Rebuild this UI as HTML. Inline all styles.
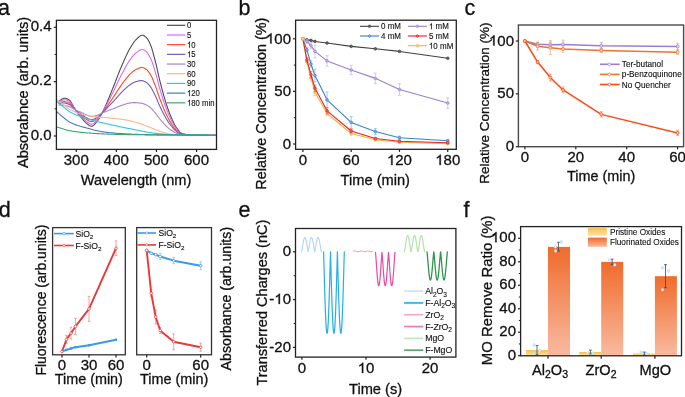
<!DOCTYPE html>
<html><head><meta charset="utf-8"><style>
html,body{margin:0;padding:0;background:#fff;overflow:hidden;}
svg{display:block;font-family:"Liberation Sans", sans-serif;will-change:transform;}
text{fill:#111;stroke:#111;stroke-width:0.3px;}
</style></head><body>
<svg width="685" height="397" viewBox="0 0 685 397">
<rect width="685" height="397" fill="#fff"/>
<clipPath id="ca"><rect x="56.4" y="20.3" width="160.1" height="129.1"/></clipPath>
<g clip-path="url(#ca)">
<polyline points="59.01,101.22 59.41,100.93 59.81,100.65 60.21,100.36 60.61,100.08 61.01,99.80 61.41,99.54 61.81,99.29 62.22,99.05 62.62,98.84 63.02,98.65 63.42,98.50 63.82,98.37 64.22,98.28 64.62,98.23 65.02,98.23 65.42,98.27 65.82,98.34 66.23,98.45 66.63,98.60 67.03,98.77 67.43,98.96 67.83,99.18 68.23,99.41 68.63,99.66 69.03,99.92 69.43,100.18 69.83,100.53 70.23,100.98 70.64,101.51 71.04,102.10 71.44,102.75 71.84,103.44 72.24,104.15 72.64,104.86 73.04,105.56 73.44,106.24 73.84,106.96 74.25,107.72 74.65,108.51 75.05,109.31 75.45,110.09 75.85,110.83 76.25,111.51 76.65,112.11 77.05,112.67 77.45,113.20 77.85,113.72 78.25,114.21 78.66,114.69 79.06,115.15 79.46,115.60 79.86,116.04 80.26,116.48 80.66,116.91 81.06,117.34 81.46,117.77 81.86,118.21 82.27,118.65 82.67,119.11 83.07,119.58 83.47,120.06 83.87,120.54 84.27,121.02 84.67,121.48 85.07,121.93 85.47,122.36 85.87,122.75 86.28,123.10 86.68,123.42 87.08,123.74 87.48,124.07 87.88,124.39 88.28,124.71 88.68,125.01 89.08,125.30 89.48,125.55 89.88,125.77 90.28,125.96 90.69,126.10 91.09,126.19 91.49,126.22 91.89,126.17 92.29,126.05 92.69,125.86 93.09,125.61 93.49,125.30 93.89,124.95 94.30,124.56 94.70,124.15 95.10,123.72 95.50,123.28 95.90,122.84 96.30,122.41 96.70,121.97 97.10,121.48 97.50,120.95 97.90,120.38 98.31,119.78 98.71,119.15 99.11,118.49 99.51,117.80 99.91,117.10 100.31,116.38 100.71,115.64 101.11,114.89 101.51,114.14 101.91,113.39 102.31,112.63 102.72,111.86 103.12,111.07 103.52,110.26 103.92,109.43 104.32,108.58 104.72,107.72 105.12,106.83 105.52,105.93 105.92,105.02 106.33,104.09 106.73,103.15 107.13,102.20 107.53,101.24 107.93,100.27 108.33,99.30 108.73,98.32 109.13,97.33 109.53,96.34 109.93,95.34 110.34,94.35 110.74,93.35 111.14,92.36 111.54,91.37 111.94,90.37 112.34,89.39 112.74,88.41 113.14,87.43 113.54,86.45 113.94,85.45 114.34,84.45 114.75,83.43 115.15,82.40 115.55,81.36 115.95,80.32 116.35,79.28 116.75,78.24 117.15,77.19 117.55,76.15 117.95,75.11 118.36,74.08 118.76,73.06 119.16,72.04 119.56,71.04 119.96,70.05 120.36,69.07 120.76,68.11 121.16,67.17 121.56,66.24 121.96,65.32 122.37,64.39 122.77,63.47 123.17,62.55 123.57,61.63 123.97,60.72 124.37,59.81 124.77,58.91 125.17,58.01 125.57,57.13 125.97,56.26 126.38,55.39 126.78,54.54 127.18,53.71 127.58,52.89 127.98,52.09 128.38,51.30 128.78,50.53 129.18,49.79 129.58,49.06 129.98,48.36 130.38,47.68 130.79,47.02 131.19,46.36 131.59,45.70 131.99,45.06 132.39,44.42 132.79,43.80 133.19,43.20 133.59,42.62 133.99,42.05 134.40,41.52 134.80,41.00 135.20,40.52 135.60,40.06 136.00,39.64 136.40,39.26 136.80,38.89 137.20,38.51 137.60,38.13 138.00,37.75 138.41,37.39 138.81,37.03 139.21,36.69 139.61,36.38 140.01,36.09 140.41,35.83 140.81,35.61 141.21,35.43 141.61,35.29 142.01,35.21 142.42,35.18 142.82,35.22 143.22,35.32 143.62,35.48 144.02,35.69 144.42,35.95 144.82,36.24 145.22,36.56 145.62,36.91 146.02,37.26 146.43,37.63 146.83,38.04 147.23,38.53 147.63,39.11 148.03,39.75 148.43,40.46 148.83,41.23 149.23,42.04 149.63,42.89 150.03,43.78 150.44,44.69 150.84,45.67 151.24,46.76 151.64,47.94 152.04,49.20 152.44,50.54 152.84,51.94 153.24,53.39 153.64,54.88 154.04,56.39 154.44,57.93 154.85,59.47 155.25,61.00 155.65,62.57 156.05,64.22 156.45,65.94 156.85,67.70 157.25,69.50 157.65,71.32 158.05,73.13 158.46,74.92 158.86,76.68 159.26,78.38 159.66,80.02 160.06,81.61 160.46,83.19 160.86,84.76 161.26,86.32 161.66,87.86 162.06,89.38 162.47,90.88 162.87,92.36 163.27,93.82 163.67,95.25 164.07,96.65 164.47,98.02 164.87,99.36 165.27,100.67 165.67,101.96 166.07,103.22 166.48,104.47 166.88,105.70 167.28,106.91 167.68,108.10 168.08,109.26 168.48,110.40 168.88,111.51 169.28,112.58 169.68,113.63 170.08,114.64 170.49,115.62 170.89,116.57 171.29,117.52 171.69,118.45 172.09,119.37 172.49,120.28 172.89,121.15 173.29,122.00 173.69,122.82 174.09,123.62 174.50,124.39 174.90,125.13 175.30,125.83 175.70,126.50 176.10,127.13 176.50,127.71 176.90,128.27 177.30,128.83 177.70,129.38 178.10,129.92 178.50,130.43 178.91,130.92 179.31,131.38 179.71,131.80 180.11,132.17 180.51,132.50 180.91,132.77 181.31,132.98 181.71,133.16 182.11,133.33 182.52,133.48 182.92,133.63 183.32,133.77 183.72,133.90 184.12,134.02 184.52,134.13 184.92,134.23 185.32,134.32 185.72,134.40 186.12,134.48 186.53,134.54 186.93,134.59 187.33,134.63 187.73,134.67 188.13,134.70 188.53,134.72 188.93,134.76 189.33,134.80 189.73,134.83 190.13,134.86 190.54,134.89 190.94,134.92 191.34,134.95 191.74,134.98 192.14,135.00 192.54,135.03 192.94,135.05 193.34,135.07 193.74,135.09 194.14,135.11 194.55,135.12 194.95,135.14 195.35,135.15 195.75,135.16 196.15,135.17 196.55,135.18 196.95,135.19 197.35,135.20 197.75,135.21 198.15,135.22 198.56,135.23 198.96,135.24 199.36,135.25 199.76,135.26 200.16,135.27 200.56,135.28 200.96,135.28 201.36,135.29 201.76,135.30 202.16,135.31 202.56,135.31 202.97,135.32 203.37,135.33 203.77,135.34 204.17,135.34 204.57,135.35 204.97,135.36 205.37,135.36 205.77,135.37 206.17,135.38 206.57,135.38 206.98,135.39 207.38,135.39 207.78,135.40 208.18,135.40 208.58,135.41 208.98,135.41 209.38,135.42 209.78,135.42 210.18,135.42 210.59,135.43 210.99,135.43 211.39,135.44 211.79,135.44 212.19,135.44 212.59,135.44 212.99,135.45 213.39,135.45 213.79,135.45 214.19,135.45 214.60,135.45 215.00,135.45 215.40,135.46 215.80,135.46 216.20,135.46 216.60,135.46" fill="none" stroke="#4d4d4d" stroke-width="1.1" stroke-linejoin="round" stroke-linecap="round" />
<polyline points="59.01,101.99 59.41,101.77 59.81,101.55 60.21,101.33 60.61,101.12 61.01,100.91 61.41,100.70 61.81,100.51 62.22,100.33 62.62,100.17 63.02,100.04 63.42,99.92 63.82,99.83 64.22,99.78 64.62,99.75 65.02,99.77 65.42,99.81 65.82,99.89 66.23,100.00 66.63,100.14 67.03,100.30 67.43,100.47 67.83,100.67 68.23,100.88 68.63,101.10 69.03,101.33 69.43,101.57 69.83,101.87 70.23,102.26 70.64,102.72 71.04,103.23 71.44,103.79 71.84,104.38 72.24,104.98 72.64,105.59 73.04,106.19 73.44,106.77 73.84,107.38 74.25,108.03 74.65,108.70 75.05,109.38 75.45,110.05 75.85,110.68 76.25,111.25 76.65,111.76 77.05,112.25 77.45,112.71 77.85,113.15 78.25,113.57 78.66,113.98 79.06,114.38 79.46,114.77 79.86,115.15 80.26,115.53 80.66,115.90 81.06,116.28 81.46,116.66 81.86,117.04 82.27,117.43 82.67,117.83 83.07,118.24 83.47,118.67 83.87,119.09 84.27,119.51 84.67,119.93 85.07,120.32 85.47,120.70 85.87,121.05 86.28,121.37 86.68,121.65 87.08,121.94 87.48,122.24 87.88,122.53 88.28,122.81 88.68,123.08 89.08,123.33 89.48,123.56 89.88,123.76 90.28,123.92 90.69,124.05 91.09,124.13 91.49,124.15 91.89,124.12 92.29,124.02 92.69,123.86 93.09,123.64 93.49,123.38 93.89,123.09 94.30,122.76 94.70,122.41 95.10,122.05 95.50,121.68 95.90,121.31 96.30,120.95 96.70,120.58 97.10,120.17 97.50,119.72 97.90,119.24 98.31,118.74 98.71,118.20 99.11,117.65 99.51,117.07 99.91,116.48 100.31,115.87 100.71,115.25 101.11,114.62 101.51,113.99 101.91,113.35 102.31,112.72 102.72,112.07 103.12,111.41 103.52,110.73 103.92,110.04 104.32,109.33 104.72,108.61 105.12,107.88 105.52,107.13 105.92,106.37 106.33,105.61 106.73,104.83 107.13,104.05 107.53,103.26 107.93,102.46 108.33,101.66 108.73,100.85 109.13,100.04 109.53,99.23 109.93,98.41 110.34,97.60 110.74,96.78 111.14,95.97 111.54,95.15 111.94,94.34 112.34,93.54 112.74,92.73 113.14,91.93 113.54,91.13 113.94,90.31 114.34,89.48 114.75,88.65 115.15,87.80 115.55,86.95 115.95,86.10 116.35,85.24 116.75,84.38 117.15,83.52 117.55,82.66 117.95,81.80 118.36,80.95 118.76,80.11 119.16,79.27 119.56,78.44 119.96,77.63 120.36,76.82 120.76,76.03 121.16,75.26 121.56,74.50 121.96,73.74 122.37,72.98 122.77,72.22 123.17,71.46 123.57,70.71 123.97,69.96 124.37,69.22 124.77,68.48 125.17,67.74 125.57,67.02 125.97,66.30 126.38,65.60 126.78,64.90 127.18,64.22 127.58,63.55 127.98,62.89 128.38,62.25 128.78,61.63 129.18,61.02 129.58,60.43 129.98,59.87 130.38,59.32 130.79,58.78 131.19,58.25 131.59,57.72 131.99,57.20 132.39,56.70 132.79,56.20 133.19,55.72 133.59,55.25 133.99,54.81 134.40,54.38 134.80,53.98 135.20,53.59 135.60,53.24 136.00,52.91 136.40,52.62 136.80,52.33 137.20,52.04 137.60,51.75 138.00,51.46 138.41,51.18 138.81,50.91 139.21,50.65 139.61,50.41 140.01,50.19 140.41,50.00 140.81,49.84 141.21,49.71 141.61,49.62 142.01,49.57 142.42,49.56 142.82,49.62 143.22,49.72 143.62,49.88 144.02,50.08 144.42,50.31 144.82,50.58 145.22,50.87 145.62,51.18 146.02,51.50 146.43,51.82 146.83,52.18 147.23,52.62 147.63,53.12 148.03,53.68 148.43,54.30 148.83,54.96 149.23,55.67 149.63,56.41 150.03,57.17 150.44,57.96 150.84,58.80 151.24,59.74 151.64,60.75 152.04,61.84 152.44,62.99 152.84,64.19 153.24,65.43 153.64,66.70 154.04,68.00 154.44,69.31 154.85,70.63 155.25,71.94 155.65,73.29 156.05,74.70 156.45,76.17 156.85,77.68 157.25,79.21 157.65,80.76 158.05,82.30 158.46,83.83 158.86,85.33 159.26,86.79 159.66,88.18 160.06,89.54 160.46,90.89 160.86,92.23 161.26,93.56 161.66,94.88 162.06,96.17 162.47,97.46 162.87,98.72 163.27,99.96 163.67,101.19 164.07,102.38 164.47,103.56 164.87,104.70 165.27,105.82 165.67,106.92 166.07,108.00 166.48,109.07 166.88,110.12 167.28,111.15 167.68,112.17 168.08,113.16 168.48,114.13 168.88,115.08 169.28,116.00 169.68,116.89 170.08,117.75 170.49,118.58 170.89,119.39 171.29,120.20 171.69,121.00 172.09,121.78 172.49,122.55 172.89,123.29 173.29,124.01 173.69,124.72 174.09,125.40 174.50,126.05 174.90,126.68 175.30,127.28 175.70,127.84 176.10,128.38 176.50,128.87 176.90,129.35 177.30,129.83 177.70,130.29 178.10,130.75 178.50,131.18 178.91,131.59 179.31,131.98 179.71,132.33 180.11,132.65 180.51,132.92 180.91,133.15 181.31,133.33 181.71,133.48 182.11,133.61 182.52,133.75 182.92,133.87 183.32,133.98 183.72,134.09 184.12,134.19 184.52,134.28 184.92,134.37 185.32,134.44 185.72,134.51 186.12,134.57 186.53,134.62 186.93,134.67 187.33,134.70 187.73,134.73 188.13,134.75 188.53,134.77 188.93,134.80 189.33,134.83 189.73,134.86 190.13,134.89 190.54,134.92 190.94,134.94 191.34,134.97 191.74,134.99 192.14,135.01 192.54,135.03 192.94,135.05 193.34,135.07 193.74,135.09 194.14,135.10 194.55,135.12 194.95,135.13 195.35,135.14 195.75,135.15 196.15,135.16 196.55,135.17 196.95,135.18 197.35,135.19 197.75,135.20 198.15,135.21 198.56,135.21 198.96,135.22 199.36,135.23 199.76,135.24 200.16,135.25 200.56,135.25 200.96,135.26 201.36,135.27 201.76,135.28 202.16,135.28 202.56,135.29 202.97,135.30 203.37,135.30 203.77,135.31 204.17,135.31 204.57,135.32 204.97,135.33 205.37,135.33 205.77,135.34 206.17,135.34 206.57,135.35 206.98,135.35 207.38,135.36 207.78,135.36 208.18,135.37 208.58,135.37 208.98,135.37 209.38,135.38 209.78,135.38 210.18,135.39 210.59,135.39 210.99,135.39 211.39,135.39 211.79,135.40 212.19,135.40 212.59,135.40 212.99,135.40 213.39,135.41 213.79,135.41 214.19,135.41 214.60,135.41 215.00,135.41 215.40,135.41 215.80,135.41 216.20,135.41 216.60,135.41" fill="none" stroke="#e066ff" stroke-width="1.1" stroke-linejoin="round" stroke-linecap="round" />
<polyline points="59.01,102.95 59.41,102.82 59.81,102.68 60.21,102.55 60.61,102.41 61.01,102.28 61.41,102.16 61.81,102.04 62.22,101.93 62.62,101.84 63.02,101.76 63.42,101.70 63.82,101.66 64.22,101.64 64.62,101.65 65.02,101.68 65.42,101.74 65.82,101.83 66.23,101.93 66.63,102.06 67.03,102.20 67.43,102.36 67.83,102.53 68.23,102.71 68.63,102.90 69.03,103.10 69.43,103.30 69.83,103.55 70.23,103.86 70.64,104.22 71.04,104.63 71.44,105.07 71.84,105.54 72.24,106.02 72.64,106.49 73.04,106.97 73.44,107.42 73.84,107.90 74.25,108.41 74.65,108.94 75.05,109.47 75.45,109.99 75.85,110.48 76.25,110.94 76.65,111.34 77.05,111.72 77.45,112.08 77.85,112.43 78.25,112.77 78.66,113.10 79.06,113.42 79.46,113.73 79.86,114.04 80.26,114.34 80.66,114.65 81.06,114.95 81.46,115.26 81.86,115.58 82.27,115.90 82.67,116.24 83.07,116.58 83.47,116.93 83.87,117.28 84.27,117.64 84.67,117.98 85.07,118.32 85.47,118.63 85.87,118.93 86.28,119.20 86.68,119.45 87.08,119.70 87.48,119.95 87.88,120.20 88.28,120.44 88.68,120.67 89.08,120.88 89.48,121.07 89.88,121.24 90.28,121.38 90.69,121.49 91.09,121.56 91.49,121.58 91.89,121.56 92.29,121.48 92.69,121.36 93.09,121.19 93.49,120.99 93.89,120.77 94.30,120.52 94.70,120.25 95.10,119.97 95.50,119.69 95.90,119.41 96.30,119.13 96.70,118.85 97.10,118.53 97.50,118.19 97.90,117.82 98.31,117.43 98.71,117.03 99.11,116.60 99.51,116.16 99.91,115.70 100.31,115.24 100.71,114.76 101.11,114.28 101.51,113.80 101.91,113.31 102.31,112.82 102.72,112.33 103.12,111.83 103.52,111.31 103.92,110.79 104.32,110.26 104.72,109.72 105.12,109.18 105.52,108.62 105.92,108.06 106.33,107.50 106.73,106.93 107.13,106.35 107.53,105.77 107.93,105.19 108.33,104.60 108.73,104.02 109.13,103.43 109.53,102.83 109.93,102.24 110.34,101.65 110.74,101.06 111.14,100.47 111.54,99.88 111.94,99.29 112.34,98.71 112.74,98.12 113.14,97.55 113.54,96.96 113.94,96.37 114.34,95.77 114.75,95.16 115.15,94.54 115.55,93.92 115.95,93.29 116.35,92.66 116.75,92.03 117.15,91.40 117.55,90.77 117.95,90.14 118.36,89.52 118.76,88.90 119.16,88.28 119.56,87.68 119.96,87.08 120.36,86.49 120.76,85.91 121.16,85.35 121.56,84.79 121.96,84.24 122.37,83.68 122.77,83.13 123.17,82.58 123.57,82.03 123.97,81.49 124.37,80.94 124.77,80.41 125.17,79.87 125.57,79.35 125.97,78.83 126.38,78.32 126.78,77.82 127.18,77.32 127.58,76.84 127.98,76.37 128.38,75.91 128.78,75.47 129.18,75.03 129.58,74.62 129.98,74.21 130.38,73.82 130.79,73.45 131.19,73.07 131.59,72.71 131.99,72.35 132.39,72.00 132.79,71.66 133.19,71.33 133.59,71.01 133.99,70.71 134.40,70.42 134.80,70.15 135.20,69.90 135.60,69.67 136.00,69.46 136.40,69.28 136.80,69.10 137.20,68.92 137.60,68.74 138.00,68.56 138.41,68.38 138.81,68.21 139.21,68.05 139.61,67.90 140.01,67.77 140.41,67.66 140.81,67.58 141.21,67.51 141.61,67.48 142.01,67.47 142.42,67.50 142.82,67.57 143.22,67.68 143.62,67.83 144.02,68.01 144.42,68.22 144.82,68.46 145.22,68.71 145.62,68.97 146.02,69.24 146.43,69.52 146.83,69.82 147.23,70.18 147.63,70.60 148.03,71.06 148.43,71.56 148.83,72.09 149.23,72.66 149.63,73.25 150.03,73.87 150.44,74.50 150.84,75.18 151.24,75.92 151.64,76.73 152.04,77.60 152.44,78.51 152.84,79.46 153.24,80.44 153.64,81.45 154.04,82.48 154.44,83.51 154.85,84.55 155.25,85.59 155.65,86.65 156.05,87.77 156.45,88.92 156.85,90.11 157.25,91.31 157.65,92.53 158.05,93.74 158.46,94.94 158.86,96.12 159.26,97.27 159.66,98.36 160.06,99.43 160.46,100.49 160.86,101.55 161.26,102.59 161.66,103.62 162.06,104.64 162.47,105.65 162.87,106.65 163.27,107.63 163.67,108.59 164.07,109.53 164.47,110.46 164.87,111.36 165.27,112.24 165.67,113.10 166.07,113.96 166.48,114.80 166.88,115.63 167.28,116.44 167.68,117.24 168.08,118.02 168.48,118.78 168.88,119.52 169.28,120.25 169.68,120.95 170.08,121.62 170.49,122.28 170.89,122.91 171.29,123.54 171.69,124.17 172.09,124.78 172.49,125.39 172.89,125.96 173.29,126.53 173.69,127.08 174.09,127.61 174.50,128.12 174.90,128.61 175.30,129.07 175.70,129.52 176.10,129.93 176.50,130.32 176.90,130.69 177.30,131.06 177.70,131.42 178.10,131.78 178.50,132.11 178.91,132.43 179.31,132.73 179.71,133.00 180.11,133.24 180.51,133.45 180.91,133.63 181.31,133.76 181.71,133.87 182.11,133.98 182.52,134.07 182.92,134.17 183.32,134.25 183.72,134.33 184.12,134.41 184.52,134.48 184.92,134.54 185.32,134.60 185.72,134.65 186.12,134.69 186.53,134.73 186.93,134.76 187.33,134.78 187.73,134.80 188.13,134.82 188.53,134.83 188.93,134.86 189.33,134.88 189.73,134.91 190.13,134.93 190.54,134.95 190.94,134.97 191.34,134.99 191.74,135.01 192.14,135.03 192.54,135.04 192.94,135.06 193.34,135.07 193.74,135.09 194.14,135.10 194.55,135.11 194.95,135.12 195.35,135.13 195.75,135.14 196.15,135.15 196.55,135.16 196.95,135.17 197.35,135.17 197.75,135.18 198.15,135.19 198.56,135.19 198.96,135.20 199.36,135.21 199.76,135.21 200.16,135.22 200.56,135.23 200.96,135.23 201.36,135.24 201.76,135.24 202.16,135.25 202.56,135.26 202.97,135.26 203.37,135.27 203.77,135.27 204.17,135.28 204.57,135.28 204.97,135.29 205.37,135.29 205.77,135.30 206.17,135.30 206.57,135.31 206.98,135.31 207.38,135.31 207.78,135.32 208.18,135.32 208.58,135.32 208.98,135.33 209.38,135.33 209.78,135.33 210.18,135.34 210.59,135.34 210.99,135.34 211.39,135.34 211.79,135.35 212.19,135.35 212.59,135.35 212.99,135.35 213.39,135.35 213.79,135.36 214.19,135.36 214.60,135.36 215.00,135.36 215.40,135.36 215.80,135.36 216.20,135.36 216.60,135.36" fill="none" stroke="#ff4a1c" stroke-width="1.1" stroke-linejoin="round" stroke-linecap="round" />
<polyline points="59.01,103.65 59.41,103.59 59.81,103.51 60.21,103.44 60.61,103.36 61.01,103.29 61.41,103.22 61.81,103.16 62.22,103.11 62.62,103.06 63.02,103.03 63.42,103.01 63.82,103.00 64.22,103.01 64.62,103.04 65.02,103.09 65.42,103.16 65.82,103.25 66.23,103.35 66.63,103.47 67.03,103.60 67.43,103.75 67.83,103.90 68.23,104.06 68.63,104.23 69.03,104.40 69.43,104.57 69.83,104.78 70.23,105.04 70.64,105.34 71.04,105.67 71.44,106.02 71.84,106.40 72.24,106.78 72.64,107.16 73.04,107.54 73.44,107.90 73.84,108.28 74.25,108.69 74.65,109.11 75.05,109.53 75.45,109.95 75.85,110.34 76.25,110.70 76.65,111.03 77.05,111.33 77.45,111.63 77.85,111.91 78.25,112.18 78.66,112.45 79.06,112.71 79.46,112.96 79.86,113.22 80.26,113.47 80.66,113.72 81.06,113.98 81.46,114.24 81.86,114.51 82.27,114.78 82.67,115.06 83.07,115.35 83.47,115.65 83.87,115.96 84.27,116.26 84.67,116.55 85.07,116.84 85.47,117.12 85.87,117.37 86.28,117.61 86.68,117.83 87.08,118.05 87.48,118.27 87.88,118.49 88.28,118.70 88.68,118.89 89.08,119.08 89.48,119.25 89.88,119.39 90.28,119.51 90.69,119.60 91.09,119.67 91.49,119.69 91.89,119.67 92.29,119.61 92.69,119.52 93.09,119.39 93.49,119.24 93.89,119.06 94.30,118.87 94.70,118.66 95.10,118.45 95.50,118.23 95.90,118.01 96.30,117.79 96.70,117.57 97.10,117.33 97.50,117.06 97.90,116.78 98.31,116.48 98.71,116.16 99.11,115.83 99.51,115.49 99.91,115.14 100.31,114.77 100.71,114.41 101.11,114.03 101.51,113.66 101.91,113.28 102.31,112.90 102.72,112.52 103.12,112.13 103.52,111.74 103.92,111.35 104.32,110.95 104.72,110.54 105.12,110.14 105.52,109.72 105.92,109.31 106.33,108.89 106.73,108.47 107.13,108.05 107.53,107.62 107.93,107.20 108.33,106.77 108.73,106.34 109.13,105.92 109.53,105.49 109.93,105.06 110.34,104.63 110.74,104.20 111.14,103.78 111.54,103.35 111.94,102.93 112.34,102.51 112.74,102.09 113.14,101.68 113.54,101.26 113.94,100.83 114.34,100.39 114.75,99.95 115.15,99.50 115.55,99.05 115.95,98.59 116.35,98.13 116.75,97.67 117.15,97.20 117.55,96.74 117.95,96.28 118.36,95.82 118.76,95.36 119.16,94.92 119.56,94.47 119.96,94.03 120.36,93.60 120.76,93.18 121.16,92.77 121.56,92.37 121.96,91.97 122.37,91.56 122.77,91.16 123.17,90.76 123.57,90.36 123.97,89.97 124.37,89.58 124.77,89.19 125.17,88.80 125.57,88.42 125.97,88.05 126.38,87.68 126.78,87.32 127.18,86.97 127.58,86.63 127.98,86.29 128.38,85.97 128.78,85.65 129.18,85.35 129.58,85.05 129.98,84.77 130.38,84.50 130.79,84.24 131.19,83.99 131.59,83.74 131.99,83.49 132.39,83.26 132.79,83.03 133.19,82.81 133.59,82.61 133.99,82.41 134.40,82.23 134.80,82.06 135.20,81.90 135.60,81.76 136.00,81.64 136.40,81.54 136.80,81.44 137.20,81.34 137.60,81.24 138.00,81.14 138.41,81.04 138.81,80.94 139.21,80.86 139.61,80.78 140.01,80.72 140.41,80.67 140.81,80.63 141.21,80.62 141.61,80.62 142.01,80.65 142.42,80.70 142.82,80.78 143.22,80.90 143.62,81.05 144.02,81.21 144.42,81.40 144.82,81.61 145.22,81.83 145.62,82.06 146.02,82.30 146.43,82.54 146.83,82.81 147.23,83.11 147.63,83.46 148.03,83.84 148.43,84.26 148.83,84.70 149.23,85.17 149.63,85.65 150.03,86.16 150.44,86.68 150.84,87.23 151.24,87.84 151.64,88.49 152.04,89.19 152.44,89.93 152.84,90.70 153.24,91.49 153.64,92.30 154.04,93.13 154.44,93.96 154.85,94.80 155.25,95.63 155.65,96.49 156.05,97.38 156.45,98.31 156.85,99.26 157.25,100.22 157.65,101.19 158.05,102.16 158.46,103.12 158.86,104.06 159.26,104.98 159.66,105.86 160.06,106.71 160.46,107.56 160.86,108.40 161.26,109.23 161.66,110.06 162.06,110.88 162.47,111.69 162.87,112.48 163.27,113.27 163.67,114.04 164.07,114.79 164.47,115.53 164.87,116.26 165.27,116.96 165.67,117.66 166.07,118.34 166.48,119.02 166.88,119.68 167.28,120.33 167.68,120.97 168.08,121.60 168.48,122.21 168.88,122.80 169.28,123.38 169.68,123.94 170.08,124.47 170.49,124.99 170.89,125.50 171.29,126.00 171.69,126.50 172.09,126.99 172.49,127.47 172.89,127.93 173.29,128.38 173.69,128.81 174.09,129.23 174.50,129.64 174.90,130.03 175.30,130.40 175.70,130.75 176.10,131.08 176.50,131.38 176.90,131.68 177.30,131.97 177.70,132.26 178.10,132.53 178.50,132.80 178.91,133.05 179.31,133.28 179.71,133.49 180.11,133.68 180.51,133.84 180.91,133.97 181.31,134.08 181.71,134.16 182.11,134.24 182.52,134.32 182.92,134.39 183.32,134.45 183.72,134.51 184.12,134.57 184.52,134.62 184.92,134.67 185.32,134.71 185.72,134.75 186.12,134.78 186.53,134.80 186.93,134.83 187.33,134.84 187.73,134.86 188.13,134.87 188.53,134.88 188.93,134.90 189.33,134.92 189.73,134.94 190.13,134.96 190.54,134.97 190.94,134.99 191.34,135.01 191.74,135.02 192.14,135.04 192.54,135.05 192.94,135.06 193.34,135.07 193.74,135.09 194.14,135.10 194.55,135.11 194.95,135.12 195.35,135.13 195.75,135.13 196.15,135.14 196.55,135.15 196.95,135.15 197.35,135.16 197.75,135.17 198.15,135.17 198.56,135.18 198.96,135.18 199.36,135.19 199.76,135.20 200.16,135.20 200.56,135.21 200.96,135.21 201.36,135.22 201.76,135.22 202.16,135.23 202.56,135.23 202.97,135.24 203.37,135.24 203.77,135.25 204.17,135.25 204.57,135.25 204.97,135.26 205.37,135.26 205.77,135.27 206.17,135.27 206.57,135.27 206.98,135.28 207.38,135.28 207.78,135.28 208.18,135.29 208.58,135.29 208.98,135.29 209.38,135.30 209.78,135.30 210.18,135.30 210.59,135.30 210.99,135.31 211.39,135.31 211.79,135.31 212.19,135.31 212.59,135.31 212.99,135.31 213.39,135.32 213.79,135.32 214.19,135.32 214.60,135.32 215.00,135.32 215.40,135.32 215.80,135.32 216.20,135.32 216.60,135.32" fill="none" stroke="#6d5fb8" stroke-width="1.1" stroke-linejoin="round" stroke-linecap="round" />
<polyline points="59.01,104.87 59.41,104.91 59.81,104.94 60.21,104.98 60.61,105.01 61.01,105.04 61.41,105.07 61.81,105.10 62.22,105.13 62.62,105.17 63.02,105.21 63.42,105.26 63.82,105.31 64.22,105.37 64.62,105.44 65.02,105.52 65.42,105.61 65.82,105.70 66.23,105.80 66.63,105.91 67.03,106.02 67.43,106.14 67.83,106.26 68.23,106.39 68.63,106.51 69.03,106.63 69.43,106.76 69.83,106.90 70.23,107.07 70.64,107.25 71.04,107.45 71.44,107.66 71.84,107.87 72.24,108.09 72.64,108.31 73.04,108.53 73.44,108.73 73.84,108.95 74.25,109.18 74.65,109.41 75.05,109.64 75.45,109.88 75.85,110.10 76.25,110.30 76.65,110.49 77.05,110.66 77.45,110.84 77.85,111.00 78.25,111.17 78.66,111.33 79.06,111.49 79.46,111.64 79.86,111.80 80.26,111.96 80.66,112.12 81.06,112.29 81.46,112.47 81.86,112.65 82.27,112.84 82.67,113.04 83.07,113.24 83.47,113.45 83.87,113.66 84.27,113.88 84.67,114.09 85.07,114.29 85.47,114.49 85.87,114.69 86.28,114.87 86.68,115.04 87.08,115.21 87.48,115.37 87.88,115.53 88.28,115.69 88.68,115.84 89.08,115.97 89.48,116.09 89.88,116.20 90.28,116.29 90.69,116.36 91.09,116.41 91.49,116.43 91.89,116.42 92.29,116.39 92.69,116.34 93.09,116.28 93.49,116.20 93.89,116.12 94.30,116.02 94.70,115.92 95.10,115.81 95.50,115.70 95.90,115.59 96.30,115.48 96.70,115.37 97.10,115.25 97.50,115.12 97.90,114.97 98.31,114.82 98.71,114.67 99.11,114.50 99.51,114.33 99.91,114.15 100.31,113.97 100.71,113.79 101.11,113.60 101.51,113.42 101.91,113.23 102.31,113.04 102.72,112.85 103.12,112.67 103.52,112.48 103.92,112.31 104.32,112.13 104.72,111.96 105.12,111.79 105.52,111.62 105.92,111.45 106.33,111.29 106.73,111.13 107.13,110.97 107.53,110.81 107.93,110.66 108.33,110.51 108.73,110.36 109.13,110.21 109.53,110.06 109.93,109.92 110.34,109.77 110.74,109.63 111.14,109.49 111.54,109.35 111.94,109.21 112.34,109.07 112.74,108.93 113.14,108.80 113.54,108.66 113.94,108.52 114.34,108.37 114.75,108.21 115.15,108.06 115.55,107.89 115.95,107.73 116.35,107.55 116.75,107.38 117.15,107.21 117.55,107.03 117.95,106.86 118.36,106.69 118.76,106.52 119.16,106.35 119.56,106.19 119.96,106.03 120.36,105.87 120.76,105.72 121.16,105.57 121.56,105.43 121.96,105.29 122.37,105.15 122.77,105.01 123.17,104.87 123.57,104.73 123.97,104.59 124.37,104.46 124.77,104.33 125.17,104.20 125.57,104.07 125.97,103.95 126.38,103.83 126.78,103.71 127.18,103.60 127.58,103.50 127.98,103.39 128.38,103.30 128.78,103.21 129.18,103.13 129.58,103.05 129.98,102.98 130.38,102.91 130.79,102.86 131.19,102.80 131.59,102.76 131.99,102.71 132.39,102.68 132.79,102.64 133.19,102.62 133.59,102.60 133.99,102.59 134.40,102.58 134.80,102.59 135.20,102.60 135.60,102.61 136.00,102.64 136.40,102.68 136.80,102.72 137.20,102.76 137.60,102.79 138.00,102.83 138.41,102.86 138.81,102.90 139.21,102.94 139.61,102.98 140.01,103.03 140.41,103.08 140.81,103.14 141.21,103.21 141.61,103.28 142.01,103.37 142.42,103.46 142.82,103.57 143.22,103.69 143.62,103.83 144.02,103.98 144.42,104.13 144.82,104.30 145.22,104.47 145.62,104.64 146.02,104.82 146.43,105.00 146.83,105.19 147.23,105.40 147.63,105.64 148.03,105.89 148.43,106.15 148.83,106.43 149.23,106.73 149.63,107.03 150.03,107.35 150.44,107.67 150.84,108.01 151.24,108.38 151.64,108.77 152.04,109.19 152.44,109.62 152.84,110.07 153.24,110.54 153.64,111.01 154.04,111.50 154.44,111.98 154.85,112.47 155.25,112.95 155.65,113.45 156.05,113.96 156.45,114.49 156.85,115.03 157.25,115.58 157.65,116.13 158.05,116.68 158.46,117.23 158.86,117.76 159.26,118.28 159.66,118.78 160.06,119.26 160.46,119.74 160.86,120.22 161.26,120.69 161.66,121.16 162.06,121.63 162.47,122.09 162.87,122.54 163.27,122.99 163.67,123.43 164.07,123.86 164.47,124.29 164.87,124.70 165.27,125.11 165.67,125.51 166.07,125.90 166.48,126.29 166.88,126.67 167.28,127.04 167.68,127.41 168.08,127.76 168.48,128.11 168.88,128.45 169.28,128.77 169.68,129.09 170.08,129.39 170.49,129.68 170.89,129.97 171.29,130.25 171.69,130.53 172.09,130.80 172.49,131.07 172.89,131.32 173.29,131.57 173.69,131.81 174.09,132.04 174.50,132.26 174.90,132.48 175.30,132.68 175.70,132.87 176.10,133.05 176.50,133.22 176.90,133.38 177.30,133.54 177.70,133.70 178.10,133.84 178.50,133.98 178.91,134.11 179.31,134.23 179.71,134.34 180.11,134.44 180.51,134.51 180.91,134.58 181.31,134.62 181.71,134.66 182.11,134.70 182.52,134.73 182.92,134.76 183.32,134.79 183.72,134.82 184.12,134.84 184.52,134.87 184.92,134.89 185.32,134.90 185.72,134.92 186.12,134.93 186.53,134.94 186.93,134.95 187.33,134.95 187.73,134.95 188.13,134.95 188.53,134.95 188.93,134.97 189.33,134.98 189.73,134.99 190.13,135.00 190.54,135.01 190.94,135.02 191.34,135.03 191.74,135.04 192.14,135.05 192.54,135.06 192.94,135.07 193.34,135.08 193.74,135.09 194.14,135.09 194.55,135.10 194.95,135.11 195.35,135.11 195.75,135.12 196.15,135.12 196.55,135.13 196.95,135.13 197.35,135.14 197.75,135.14 198.15,135.15 198.56,135.15 198.96,135.16 199.36,135.16 199.76,135.16 200.16,135.17 200.56,135.17 200.96,135.18 201.36,135.18 201.76,135.18 202.16,135.19 202.56,135.19 202.97,135.19 203.37,135.20 203.77,135.20 204.17,135.20 204.57,135.21 204.97,135.21 205.37,135.21 205.77,135.22 206.17,135.22 206.57,135.22 206.98,135.22 207.38,135.23 207.78,135.23 208.18,135.23 208.58,135.23 208.98,135.23 209.38,135.24 209.78,135.24 210.18,135.24 210.59,135.24 210.99,135.24 211.39,135.24 211.79,135.25 212.19,135.25 212.59,135.25 212.99,135.25 213.39,135.25 213.79,135.25 214.19,135.25 214.60,135.25 215.00,135.25 215.40,135.25 215.80,135.25 216.20,135.25 216.60,135.25" fill="none" stroke="#a384d6" stroke-width="1.1" stroke-linejoin="round" stroke-linecap="round" />
<polyline points="56.20,99.31 57.00,99.92 57.80,100.53 58.61,101.13 59.41,101.73 60.21,102.33 61.01,102.92 61.81,103.52 62.62,104.11 63.42,104.70 64.22,105.29 65.02,105.90 65.82,106.53 66.63,107.16 67.43,107.79 68.23,108.39 69.03,108.94 69.83,109.43 70.64,109.84 71.44,110.24 72.24,110.62 73.04,111.00 73.84,111.36 74.65,111.70 75.45,112.04 76.25,112.36 77.05,112.67 77.85,112.97 78.66,113.25 79.46,113.53 80.26,113.79 81.06,114.03 81.86,114.27 82.67,114.49 83.47,114.70 84.27,114.89 85.07,115.08 85.87,115.25 86.68,115.41 87.48,115.57 88.28,115.71 89.08,115.85 89.88,115.99 90.69,116.11 91.49,116.23 92.29,116.35 93.09,116.46 93.89,116.56 94.70,116.66 95.50,116.75 96.30,116.84 97.10,116.92 97.90,117.00 98.71,117.08 99.51,117.15 100.31,117.22 101.11,117.29 101.91,117.35 102.72,117.42 103.52,117.48 104.32,117.54 105.12,117.61 105.92,117.67 106.73,117.74 107.53,117.80 108.33,117.87 109.13,117.95 109.93,118.02 110.74,118.10 111.54,118.19 112.34,118.27 113.14,118.35 113.94,118.43 114.75,118.51 115.55,118.59 116.35,118.68 117.15,118.76 117.95,118.85 118.76,118.94 119.56,119.04 120.36,119.14 121.16,119.24 121.96,119.35 122.77,119.46 123.57,119.57 124.37,119.69 125.17,119.82 125.97,119.96 126.78,120.11 127.58,120.26 128.38,120.43 129.18,120.60 129.98,120.78 130.79,120.96 131.59,121.15 132.39,121.35 133.19,121.55 133.99,121.76 134.80,121.98 135.60,122.19 136.40,122.41 137.20,122.64 138.00,122.89 138.81,123.14 139.61,123.41 140.41,123.69 141.21,123.98 142.01,124.27 142.82,124.57 143.62,124.88 144.42,125.18 145.22,125.49 146.02,125.79 146.83,126.10 147.63,126.42 148.43,126.74 149.23,127.08 150.03,127.42 150.84,127.77 151.64,128.11 152.44,128.46 153.24,128.79 154.04,129.12 154.85,129.44 155.65,129.74 156.45,130.02 157.25,130.30 158.05,130.58 158.86,130.86 159.66,131.15 160.46,131.43 161.26,131.71 162.06,131.98 162.87,132.25 163.67,132.51 164.47,132.76 165.27,132.99 166.07,133.21 166.88,133.42 167.68,133.61 168.48,133.77 169.28,133.92 170.08,134.05 170.89,134.15 171.69,134.24 172.49,134.34 173.29,134.42 174.09,134.51 174.90,134.59 175.70,134.66 176.50,134.72 177.30,134.78 178.10,134.83 178.91,134.87 179.71,134.89 180.51,134.91 181.31,134.93 182.11,134.94 182.92,134.95 183.72,134.96 184.52,134.97 185.32,134.99 186.12,135.00 186.93,135.01 187.73,135.02 188.53,135.03 189.33,135.04 190.13,135.05 190.94,135.05 191.74,135.06 192.54,135.07 193.34,135.08 194.14,135.09 194.95,135.09 195.75,135.10 196.55,135.11 197.35,135.11 198.15,135.12 198.96,135.13 199.76,135.13 200.56,135.14 201.36,135.14 202.16,135.15 202.97,135.15 203.77,135.15 204.57,135.16 205.37,135.16 206.17,135.16 206.98,135.17 207.78,135.17 208.58,135.17 209.38,135.18 210.18,135.18 210.99,135.18 211.79,135.18 212.59,135.18 213.39,135.18 214.19,135.18 215.00,135.18 215.80,135.18 216.60,135.18" fill="none" stroke="#f7b88e" stroke-width="1.1" stroke-linejoin="round" stroke-linecap="round" />
<polyline points="56.20,100.94 57.00,101.61 57.80,102.28 58.61,102.94 59.41,103.60 60.21,104.26 61.01,104.91 61.81,105.55 62.62,106.19 63.42,106.83 64.22,107.47 65.02,108.11 65.82,108.78 66.63,109.46 67.43,110.12 68.23,110.75 69.03,111.33 69.83,111.85 70.64,112.31 71.44,112.73 72.24,113.13 73.04,113.52 73.84,113.89 74.65,114.25 75.45,114.59 76.25,114.92 77.05,115.24 77.85,115.55 78.66,115.85 79.46,116.14 80.26,116.42 81.06,116.70 81.86,116.98 82.67,117.25 83.47,117.52 84.27,117.79 85.07,118.06 85.87,118.33 86.68,118.60 87.48,118.85 88.28,119.11 89.08,119.35 89.88,119.60 90.69,119.83 91.49,120.06 92.29,120.29 93.09,120.51 93.89,120.73 94.70,120.95 95.50,121.16 96.30,121.37 97.10,121.57 97.90,121.77 98.71,121.96 99.51,122.16 100.31,122.35 101.11,122.53 101.91,122.72 102.72,122.90 103.52,123.08 104.32,123.26 105.12,123.44 105.92,123.62 106.73,123.79 107.53,123.97 108.33,124.15 109.13,124.32 109.93,124.50 110.74,124.67 111.54,124.85 112.34,125.03 113.14,125.20 113.94,125.38 114.75,125.55 115.55,125.73 116.35,125.90 117.15,126.08 117.95,126.25 118.76,126.42 119.56,126.59 120.36,126.76 121.16,126.93 121.96,127.10 122.77,127.27 123.57,127.44 124.37,127.60 125.17,127.77 125.97,127.93 126.78,128.09 127.58,128.26 128.38,128.42 129.18,128.58 129.98,128.74 130.79,128.89 131.59,129.05 132.39,129.21 133.19,129.36 133.99,129.52 134.80,129.68 135.60,129.84 136.40,130.00 137.20,130.16 138.00,130.33 138.81,130.49 139.61,130.65 140.41,130.81 141.21,130.98 142.01,131.14 142.82,131.29 143.62,131.45 144.42,131.60 145.22,131.75 146.02,131.90 146.83,132.05 147.63,132.19 148.43,132.33 149.23,132.46 150.03,132.59 150.84,132.71 151.64,132.83 152.44,132.94 153.24,133.05 154.04,133.15 154.85,133.24 155.65,133.33 156.45,133.41 157.25,133.50 158.05,133.58 158.86,133.66 159.66,133.75 160.46,133.83 161.26,133.90 162.06,133.98 162.87,134.05 163.67,134.12 164.47,134.19 165.27,134.26 166.07,134.32 166.88,134.37 167.68,134.43 168.48,134.48 169.28,134.52 170.08,134.56 170.89,134.59 171.69,134.62 172.49,134.64 173.29,134.66 174.09,134.68 174.90,134.70 175.70,134.72 176.50,134.73 177.30,134.75 178.10,134.77 178.91,134.78 179.71,134.80 180.51,134.82 181.31,134.83 182.11,134.85 182.92,134.86 183.72,134.88 184.52,134.89 185.32,134.91 186.12,134.92 186.93,134.93 187.73,134.95 188.53,134.96 189.33,134.97 190.13,134.98 190.94,135.00 191.74,135.01 192.54,135.02 193.34,135.03 194.14,135.04 194.95,135.05 195.75,135.06 196.55,135.07 197.35,135.08 198.15,135.09 198.96,135.09 199.76,135.10 200.56,135.11 201.36,135.12 202.16,135.12 202.97,135.13 203.77,135.14 204.57,135.14 205.37,135.15 206.17,135.15 206.98,135.16 207.78,135.16 208.58,135.17 209.38,135.17 210.18,135.17 210.99,135.18 211.79,135.18 212.59,135.18 213.39,135.18 214.19,135.18 215.00,135.18 215.80,135.18 216.60,135.18" fill="none" stroke="#2ec5f2" stroke-width="1.1" stroke-linejoin="round" stroke-linecap="round" />
<polyline points="56.20,111.27 57.00,112.00 57.80,112.72 58.61,113.43 59.41,114.12 60.21,114.81 61.01,115.48 61.81,116.14 62.62,116.80 63.42,117.44 64.22,118.06 65.02,118.70 65.82,119.34 66.63,119.97 67.43,120.59 68.23,121.18 69.03,121.72 69.83,122.20 70.64,122.61 71.44,123.00 72.24,123.36 73.04,123.70 73.84,124.03 74.65,124.34 75.45,124.63 76.25,124.91 77.05,125.19 77.85,125.45 78.66,125.71 79.46,125.96 80.26,126.22 81.06,126.46 81.86,126.70 82.67,126.93 83.47,127.15 84.27,127.36 85.07,127.57 85.87,127.78 86.68,127.98 87.48,128.19 88.28,128.40 89.08,128.61 89.88,128.82 90.69,129.05 91.49,129.29 92.29,129.53 93.09,129.77 93.89,130.00 94.70,130.20 95.50,130.38 96.30,130.55 97.10,130.71 97.90,130.87 98.71,131.03 99.51,131.18 100.31,131.33 101.11,131.47 101.91,131.61 102.72,131.75 103.52,131.88 104.32,132.00 105.12,132.12 105.92,132.23 106.73,132.34 107.53,132.44 108.33,132.53 109.13,132.62 109.93,132.70 110.74,132.78 111.54,132.85 112.34,132.92 113.14,132.99 113.94,133.06 114.75,133.13 115.55,133.20 116.35,133.26 117.15,133.32 117.95,133.39 118.76,133.45 119.56,133.50 120.36,133.56 121.16,133.62 121.96,133.67 122.77,133.72 123.57,133.77 124.37,133.82 125.17,133.87 125.97,133.92 126.78,133.96 127.58,134.01 128.38,134.05 129.18,134.09 129.98,134.12 130.79,134.16 131.59,134.20 132.39,134.23 133.19,134.26 133.99,134.29 134.80,134.32 135.60,134.34 136.40,134.37 137.20,134.39 138.00,134.42 138.81,134.44 139.61,134.46 140.41,134.48 141.21,134.50 142.01,134.53 142.82,134.55 143.62,134.57 144.42,134.58 145.22,134.60 146.02,134.62 146.83,134.64 147.63,134.66 148.43,134.67 149.23,134.69 150.03,134.71 150.84,134.72 151.64,134.74 152.44,134.75 153.24,134.77 154.04,134.78 154.85,134.79 155.65,134.81 156.45,134.82 157.25,134.83 158.05,134.84 158.86,134.85 159.66,134.86 160.46,134.87 161.26,134.88 162.06,134.89 162.87,134.90 163.67,134.91 164.47,134.91 165.27,134.92 166.07,134.93 166.88,134.93 167.68,134.94 168.48,134.95 169.28,134.95 170.08,134.96 170.89,134.97 171.69,134.97 172.49,134.98 173.29,134.99 174.09,134.99 174.90,135.00 175.70,135.01 176.50,135.01 177.30,135.02 178.10,135.02 178.91,135.03 179.71,135.04 180.51,135.04 181.31,135.05 182.11,135.05 182.92,135.06 183.72,135.06 184.52,135.07 185.32,135.07 186.12,135.08 186.93,135.08 187.73,135.09 188.53,135.09 189.33,135.10 190.13,135.10 190.94,135.11 191.74,135.11 192.54,135.12 193.34,135.12 194.14,135.12 194.95,135.13 195.75,135.13 196.55,135.14 197.35,135.14 198.15,135.14 198.96,135.15 199.76,135.15 200.56,135.15 201.36,135.16 202.16,135.16 202.97,135.16 203.77,135.16 204.57,135.17 205.37,135.17 206.17,135.17 206.98,135.17 207.78,135.17 208.58,135.18 209.38,135.18 210.18,135.18 210.99,135.18 211.79,135.18 212.59,135.18 213.39,135.18 214.19,135.18 215.00,135.18 215.80,135.18 216.60,135.18" fill="none" stroke="#3c7fc1" stroke-width="1.1" stroke-linejoin="round" stroke-linecap="round" />
<polyline points="56.20,126.76 57.00,127.02 57.80,127.27 58.61,127.53 59.41,127.78 60.21,128.02 61.01,128.26 61.81,128.50 62.62,128.74 63.42,128.98 64.22,129.21 65.02,129.44 65.82,129.69 66.63,129.93 67.43,130.17 68.23,130.39 69.03,130.59 69.83,130.76 70.64,130.90 71.44,131.04 72.24,131.17 73.04,131.29 73.84,131.41 74.65,131.53 75.45,131.64 76.25,131.75 77.05,131.86 77.85,131.96 78.66,132.06 79.46,132.15 80.26,132.24 81.06,132.33 81.86,132.42 82.67,132.50 83.47,132.58 84.27,132.66 85.07,132.73 85.87,132.80 86.68,132.87 87.48,132.93 88.28,133.00 89.08,133.06 89.88,133.12 90.69,133.17 91.49,133.23 92.29,133.28 93.09,133.33 93.89,133.38 94.70,133.43 95.50,133.48 96.30,133.53 97.10,133.58 97.90,133.62 98.71,133.67 99.51,133.71 100.31,133.76 101.11,133.80 101.91,133.84 102.72,133.88 103.52,133.92 104.32,133.95 105.12,133.99 105.92,134.03 106.73,134.06 107.53,134.09 108.33,134.12 109.13,134.16 109.93,134.18 110.74,134.21 111.54,134.24 112.34,134.26 113.14,134.29 113.94,134.31 114.75,134.33 115.55,134.35 116.35,134.37 117.15,134.39 117.95,134.40 118.76,134.42 119.56,134.44 120.36,134.45 121.16,134.47 121.96,134.48 122.77,134.50 123.57,134.51 124.37,134.53 125.17,134.54 125.97,134.56 126.78,134.57 127.58,134.58 128.38,134.60 129.18,134.61 129.98,134.62 130.79,134.64 131.59,134.65 132.39,134.66 133.19,134.67 133.99,134.68 134.80,134.69 135.60,134.70 136.40,134.72 137.20,134.73 138.00,134.74 138.81,134.75 139.61,134.76 140.41,134.77 141.21,134.77 142.01,134.78 142.82,134.79 143.62,134.80 144.42,134.81 145.22,134.82 146.02,134.83 146.83,134.83 147.63,134.84 148.43,134.85 149.23,134.86 150.03,134.86 150.84,134.87 151.64,134.88 152.44,134.88 153.24,134.89 154.04,134.90 154.85,134.90 155.65,134.91 156.45,134.91 157.25,134.92 158.05,134.92 158.86,134.93 159.66,134.94 160.46,134.94 161.26,134.95 162.06,134.95 162.87,134.96 163.67,134.96 164.47,134.97 165.27,134.97 166.07,134.98 166.88,134.98 167.68,134.99 168.48,135.00 169.28,135.00 170.08,135.01 170.89,135.01 171.69,135.02 172.49,135.02 173.29,135.03 174.09,135.03 174.90,135.04 175.70,135.04 176.50,135.05 177.30,135.05 178.10,135.06 178.91,135.06 179.71,135.06 180.51,135.07 181.31,135.07 182.11,135.08 182.92,135.08 183.72,135.09 184.52,135.09 185.32,135.10 186.12,135.10 186.93,135.10 187.73,135.11 188.53,135.11 189.33,135.12 190.13,135.12 190.94,135.12 191.74,135.13 192.54,135.13 193.34,135.13 194.14,135.14 194.95,135.14 195.75,135.14 196.55,135.15 197.35,135.15 198.15,135.15 198.96,135.15 199.76,135.16 200.56,135.16 201.36,135.16 202.16,135.16 202.97,135.17 203.77,135.17 204.57,135.17 205.37,135.17 206.17,135.17 206.98,135.18 207.78,135.18 208.58,135.18 209.38,135.18 210.18,135.18 210.99,135.18 211.79,135.18 212.59,135.18 213.39,135.18 214.19,135.18 215.00,135.18 215.80,135.18 216.60,135.18" fill="none" stroke="#3aa86b" stroke-width="1.1" stroke-linejoin="round" stroke-linecap="round" />
</g>
<rect x="56.40" y="20.30" width="160.10" height="129.10" fill="none" stroke="#222" stroke-width="1.3"/>
<line x1="53.80" y1="27.30" x2="56.40" y2="27.30" stroke="#222" stroke-width="1.2" />
<text x="51.60" y="31.10" font-size="15" text-anchor="end" >0.4</text>
<line x1="53.80" y1="81.65" x2="56.40" y2="81.65" stroke="#222" stroke-width="1.2" />
<text x="51.60" y="85.45" font-size="15" text-anchor="end" >0.2</text>
<line x1="53.80" y1="136.00" x2="56.40" y2="136.00" stroke="#222" stroke-width="1.2" />
<text x="51.60" y="139.80" font-size="15" text-anchor="end" >0.0</text>
<line x1="54.60" y1="54.48" x2="56.40" y2="54.48" stroke="#222" stroke-width="1.0" />
<line x1="54.60" y1="108.83" x2="56.40" y2="108.83" stroke="#222" stroke-width="1.0" />
<line x1="76.25" y1="149.40" x2="76.25" y2="152.00" stroke="#222" stroke-width="1.2" />
<text x="76.25" y="165.30" font-size="15" text-anchor="middle" >300</text>
<line x1="116.35" y1="149.40" x2="116.35" y2="152.00" stroke="#222" stroke-width="1.2" />
<text x="116.35" y="165.30" font-size="15" text-anchor="middle" >400</text>
<line x1="156.45" y1="149.40" x2="156.45" y2="152.00" stroke="#222" stroke-width="1.2" />
<text x="156.45" y="165.30" font-size="15" text-anchor="middle" >500</text>
<line x1="196.55" y1="149.40" x2="196.55" y2="152.00" stroke="#222" stroke-width="1.2" />
<text x="196.55" y="165.30" font-size="15" text-anchor="middle" >600</text>
<text x="80.70" y="184.80" font-size="14.6" text-anchor="start" >Wavelength (nm)</text>
<text x="27.90" y="168.00" font-size="14.55" text-anchor="start" transform="rotate(-90 27.90 168.00)" >Absorabnce (arb. units)</text>
<line x1="166.90" y1="25.30" x2="185.30" y2="25.30" stroke="#4d4d4d" stroke-width="1.2" />
<text transform="translate(187.00 28.30) scale(0.88 1)" font-size="8.8" style="stroke-width:0.12px">0</text>
<line x1="166.90" y1="34.99" x2="185.30" y2="34.99" stroke="#e066ff" stroke-width="1.2" />
<text transform="translate(187.00 37.99) scale(0.88 1)" font-size="8.8" style="stroke-width:0.12px">5</text>
<line x1="166.90" y1="44.68" x2="185.30" y2="44.68" stroke="#ff4a1c" stroke-width="1.2" />
<g transform="translate(187.00 47.68) scale(0.88 1)"><text x="0" y="0" font-size="8.8" style="stroke-width:0.12px"> 0</text><path d="M763 0H583V1147Q518 1085 413.5 1023T223 930V1104Q373 1175 485.5 1276T644 1466H763V0Z" transform="translate(0.000 0) scale(0.00430 -0.00415)" fill="#111" stroke="#111" stroke-width="0.12" vector-effect="non-scaling-stroke"/></g>
<line x1="166.90" y1="54.37" x2="185.30" y2="54.37" stroke="#6d5fb8" stroke-width="1.2" />
<g transform="translate(187.00 57.37) scale(0.88 1)"><text x="0" y="0" font-size="8.8" style="stroke-width:0.12px"> 5</text><path d="M763 0H583V1147Q518 1085 413.5 1023T223 930V1104Q373 1175 485.5 1276T644 1466H763V0Z" transform="translate(0.000 0) scale(0.00430 -0.00415)" fill="#111" stroke="#111" stroke-width="0.12" vector-effect="non-scaling-stroke"/></g>
<line x1="166.90" y1="64.06" x2="185.30" y2="64.06" stroke="#a384d6" stroke-width="1.2" />
<text transform="translate(187.00 67.06) scale(0.88 1)" font-size="8.8" style="stroke-width:0.12px">30</text>
<line x1="166.90" y1="73.75" x2="185.30" y2="73.75" stroke="#f7b88e" stroke-width="1.2" />
<text transform="translate(187.00 76.75) scale(0.88 1)" font-size="8.8" style="stroke-width:0.12px">60</text>
<line x1="166.90" y1="83.44" x2="185.30" y2="83.44" stroke="#2ec5f2" stroke-width="1.2" />
<text transform="translate(187.00 86.44) scale(0.88 1)" font-size="8.8" style="stroke-width:0.12px">90</text>
<line x1="166.90" y1="93.13" x2="185.30" y2="93.13" stroke="#3c7fc1" stroke-width="1.2" />
<g transform="translate(187.00 96.13) scale(0.88 1)"><text x="0" y="0" font-size="8.8" style="stroke-width:0.12px"> 20</text><path d="M763 0H583V1147Q518 1085 413.5 1023T223 930V1104Q373 1175 485.5 1276T644 1466H763V0Z" transform="translate(0.000 0) scale(0.00430 -0.00415)" fill="#111" stroke="#111" stroke-width="0.12" vector-effect="non-scaling-stroke"/></g>
<line x1="166.90" y1="102.82" x2="185.30" y2="102.82" stroke="#3aa86b" stroke-width="1.2" />
<g transform="translate(187.00 105.82) scale(0.88 1)"><text x="0" y="0" font-size="8.8" style="stroke-width:0.12px"> 80 min</text><path d="M763 0H583V1147Q518 1085 413.5 1023T223 930V1104Q373 1175 485.5 1276T644 1466H763V0Z" transform="translate(0.000 0) scale(0.00430 -0.00415)" fill="#111" stroke="#111" stroke-width="0.12" vector-effect="non-scaling-stroke"/></g>
<text x="-1.90" y="15.10" font-size="21.5" text-anchor="start" >a</text>
<polyline points="302.90,38.80 306.92,39.85 310.95,40.38 314.97,41.43 327.04,43.01 351.18,46.37 375.32,48.79 399.46,51.42 447.75,58.26" fill="none" stroke="#404040" stroke-width="1.1" stroke-linejoin="round" stroke-linecap="round" />
<circle cx="302.90" cy="38.80" r="1.35" fill="#666666" stroke="#404040" stroke-width="0.7"/>
<circle cx="306.92" cy="39.85" r="1.35" fill="#666666" stroke="#404040" stroke-width="0.7"/>
<circle cx="310.95" cy="40.38" r="1.35" fill="#666666" stroke="#404040" stroke-width="0.7"/>
<circle cx="314.97" cy="41.43" r="1.35" fill="#666666" stroke="#404040" stroke-width="0.7"/>
<circle cx="327.04" cy="43.01" r="1.35" fill="#666666" stroke="#404040" stroke-width="0.7"/>
<circle cx="351.18" cy="46.37" r="1.35" fill="#666666" stroke="#404040" stroke-width="0.7"/>
<circle cx="375.32" cy="48.79" r="1.35" fill="#666666" stroke="#404040" stroke-width="0.7"/>
<circle cx="399.46" cy="51.42" r="1.35" fill="#666666" stroke="#404040" stroke-width="0.7"/>
<circle cx="447.75" cy="58.26" r="1.35" fill="#666666" stroke="#404040" stroke-width="0.7"/>
<line x1="306.92" y1="39.33" x2="306.92" y2="43.53" stroke="#c6b0ea" stroke-width="0.7" />
<line x1="305.42" y1="39.33" x2="308.42" y2="39.33" stroke="#c6b0ea" stroke-width="0.7" />
<line x1="305.42" y1="43.53" x2="308.42" y2="43.53" stroke="#c6b0ea" stroke-width="0.7" />
<line x1="310.95" y1="42.48" x2="310.95" y2="48.79" stroke="#c6b0ea" stroke-width="0.7" />
<line x1="309.45" y1="42.48" x2="312.45" y2="42.48" stroke="#c6b0ea" stroke-width="0.7" />
<line x1="309.45" y1="48.79" x2="312.45" y2="48.79" stroke="#c6b0ea" stroke-width="0.7" />
<line x1="314.97" y1="45.11" x2="314.97" y2="57.74" stroke="#c6b0ea" stroke-width="0.7" />
<line x1="313.47" y1="45.11" x2="316.47" y2="45.11" stroke="#c6b0ea" stroke-width="0.7" />
<line x1="313.47" y1="57.74" x2="316.47" y2="57.74" stroke="#c6b0ea" stroke-width="0.7" />
<line x1="327.04" y1="55.63" x2="327.04" y2="66.15" stroke="#c6b0ea" stroke-width="0.7" />
<line x1="325.54" y1="55.63" x2="328.54" y2="55.63" stroke="#c6b0ea" stroke-width="0.7" />
<line x1="325.54" y1="66.15" x2="328.54" y2="66.15" stroke="#c6b0ea" stroke-width="0.7" />
<line x1="351.18" y1="65.31" x2="351.18" y2="74.78" stroke="#c6b0ea" stroke-width="0.7" />
<line x1="349.68" y1="65.31" x2="352.68" y2="65.31" stroke="#c6b0ea" stroke-width="0.7" />
<line x1="349.68" y1="74.78" x2="352.68" y2="74.78" stroke="#c6b0ea" stroke-width="0.7" />
<line x1="375.32" y1="73.10" x2="375.32" y2="83.62" stroke="#c6b0ea" stroke-width="0.7" />
<line x1="373.82" y1="73.10" x2="376.82" y2="73.10" stroke="#c6b0ea" stroke-width="0.7" />
<line x1="373.82" y1="83.62" x2="376.82" y2="83.62" stroke="#c6b0ea" stroke-width="0.7" />
<line x1="399.46" y1="83.72" x2="399.46" y2="95.29" stroke="#c6b0ea" stroke-width="0.7" />
<line x1="397.96" y1="83.72" x2="400.96" y2="83.72" stroke="#c6b0ea" stroke-width="0.7" />
<line x1="397.96" y1="95.29" x2="400.96" y2="95.29" stroke="#c6b0ea" stroke-width="0.7" />
<line x1="447.75" y1="97.82" x2="447.75" y2="108.34" stroke="#c6b0ea" stroke-width="0.7" />
<line x1="446.25" y1="97.82" x2="449.25" y2="97.82" stroke="#c6b0ea" stroke-width="0.7" />
<line x1="446.25" y1="108.34" x2="449.25" y2="108.34" stroke="#c6b0ea" stroke-width="0.7" />
<polyline points="302.90,38.80 306.92,41.43 310.95,45.64 314.97,51.42 327.04,60.89 351.18,70.04 375.32,78.36 399.46,89.51 447.75,103.08" fill="none" stroke="#9a7fd0" stroke-width="1.1" stroke-linejoin="round" stroke-linecap="round" />
<circle cx="302.90" cy="38.80" r="1.35" fill="#c6b0ea" stroke="#9a7fd0" stroke-width="0.7"/>
<circle cx="306.92" cy="41.43" r="1.35" fill="#c6b0ea" stroke="#9a7fd0" stroke-width="0.7"/>
<circle cx="310.95" cy="45.64" r="1.35" fill="#c6b0ea" stroke="#9a7fd0" stroke-width="0.7"/>
<circle cx="314.97" cy="51.42" r="1.35" fill="#c6b0ea" stroke="#9a7fd0" stroke-width="0.7"/>
<circle cx="327.04" cy="60.89" r="1.35" fill="#c6b0ea" stroke="#9a7fd0" stroke-width="0.7"/>
<circle cx="351.18" cy="70.04" r="1.35" fill="#c6b0ea" stroke="#9a7fd0" stroke-width="0.7"/>
<circle cx="375.32" cy="78.36" r="1.35" fill="#c6b0ea" stroke="#9a7fd0" stroke-width="0.7"/>
<circle cx="399.46" cy="89.51" r="1.35" fill="#c6b0ea" stroke="#9a7fd0" stroke-width="0.7"/>
<circle cx="447.75" cy="103.08" r="1.35" fill="#c6b0ea" stroke="#9a7fd0" stroke-width="0.7"/>
<line x1="306.92" y1="47.74" x2="306.92" y2="51.95" stroke="#7fb2e0" stroke-width="0.7" />
<line x1="305.42" y1="47.74" x2="308.42" y2="47.74" stroke="#7fb2e0" stroke-width="0.7" />
<line x1="305.42" y1="51.95" x2="308.42" y2="51.95" stroke="#7fb2e0" stroke-width="0.7" />
<line x1="310.95" y1="60.89" x2="310.95" y2="67.20" stroke="#7fb2e0" stroke-width="0.7" />
<line x1="309.45" y1="60.89" x2="312.45" y2="60.89" stroke="#7fb2e0" stroke-width="0.7" />
<line x1="309.45" y1="67.20" x2="312.45" y2="67.20" stroke="#7fb2e0" stroke-width="0.7" />
<line x1="314.97" y1="69.31" x2="314.97" y2="81.93" stroke="#7fb2e0" stroke-width="0.7" />
<line x1="313.47" y1="69.31" x2="316.47" y2="69.31" stroke="#7fb2e0" stroke-width="0.7" />
<line x1="313.47" y1="81.93" x2="316.47" y2="81.93" stroke="#7fb2e0" stroke-width="0.7" />
<line x1="327.04" y1="91.93" x2="327.04" y2="107.71" stroke="#7fb2e0" stroke-width="0.7" />
<line x1="325.54" y1="91.93" x2="328.54" y2="91.93" stroke="#7fb2e0" stroke-width="0.7" />
<line x1="325.54" y1="107.71" x2="328.54" y2="107.71" stroke="#7fb2e0" stroke-width="0.7" />
<line x1="351.18" y1="116.65" x2="351.18" y2="128.22" stroke="#7fb2e0" stroke-width="0.7" />
<line x1="349.68" y1="116.65" x2="352.68" y2="116.65" stroke="#7fb2e0" stroke-width="0.7" />
<line x1="349.68" y1="128.22" x2="352.68" y2="128.22" stroke="#7fb2e0" stroke-width="0.7" />
<line x1="375.32" y1="128.43" x2="375.32" y2="134.74" stroke="#7fb2e0" stroke-width="0.7" />
<line x1="373.82" y1="128.43" x2="376.82" y2="128.43" stroke="#7fb2e0" stroke-width="0.7" />
<line x1="373.82" y1="134.74" x2="376.82" y2="134.74" stroke="#7fb2e0" stroke-width="0.7" />
<line x1="399.46" y1="136.11" x2="399.46" y2="139.27" stroke="#7fb2e0" stroke-width="0.7" />
<line x1="397.96" y1="136.11" x2="400.96" y2="136.11" stroke="#7fb2e0" stroke-width="0.7" />
<line x1="397.96" y1="139.27" x2="400.96" y2="139.27" stroke="#7fb2e0" stroke-width="0.7" />
<line x1="447.75" y1="139.69" x2="447.75" y2="141.79" stroke="#7fb2e0" stroke-width="0.7" />
<line x1="446.25" y1="139.69" x2="449.25" y2="139.69" stroke="#7fb2e0" stroke-width="0.7" />
<line x1="446.25" y1="141.79" x2="449.25" y2="141.79" stroke="#7fb2e0" stroke-width="0.7" />
<polyline points="302.90,38.80 306.92,49.85 310.95,64.05 314.97,75.62 327.04,99.82 351.18,122.43 375.32,131.59 399.46,137.69 447.75,140.74" fill="none" stroke="#3b82c4" stroke-width="1.1" stroke-linejoin="round" stroke-linecap="round" />
<circle cx="302.90" cy="38.80" r="1.35" fill="#7fb2e0" stroke="#3b82c4" stroke-width="0.7"/>
<circle cx="306.92" cy="49.85" r="1.35" fill="#7fb2e0" stroke="#3b82c4" stroke-width="0.7"/>
<circle cx="310.95" cy="64.05" r="1.35" fill="#7fb2e0" stroke="#3b82c4" stroke-width="0.7"/>
<circle cx="314.97" cy="75.62" r="1.35" fill="#7fb2e0" stroke="#3b82c4" stroke-width="0.7"/>
<circle cx="327.04" cy="99.82" r="1.35" fill="#7fb2e0" stroke="#3b82c4" stroke-width="0.7"/>
<circle cx="351.18" cy="122.43" r="1.35" fill="#7fb2e0" stroke="#3b82c4" stroke-width="0.7"/>
<circle cx="375.32" cy="131.59" r="1.35" fill="#7fb2e0" stroke="#3b82c4" stroke-width="0.7"/>
<circle cx="399.46" cy="137.69" r="1.35" fill="#7fb2e0" stroke="#3b82c4" stroke-width="0.7"/>
<circle cx="447.75" cy="140.74" r="1.35" fill="#7fb2e0" stroke="#3b82c4" stroke-width="0.7"/>
<line x1="306.92" y1="59.84" x2="306.92" y2="64.05" stroke="#f8cd7a" stroke-width="0.7" />
<line x1="305.42" y1="59.84" x2="308.42" y2="59.84" stroke="#f8cd7a" stroke-width="0.7" />
<line x1="305.42" y1="64.05" x2="308.42" y2="64.05" stroke="#f8cd7a" stroke-width="0.7" />
<line x1="310.95" y1="74.57" x2="310.95" y2="80.88" stroke="#f8cd7a" stroke-width="0.7" />
<line x1="309.45" y1="74.57" x2="312.45" y2="74.57" stroke="#f8cd7a" stroke-width="0.7" />
<line x1="309.45" y1="80.88" x2="312.45" y2="80.88" stroke="#f8cd7a" stroke-width="0.7" />
<line x1="314.97" y1="89.30" x2="314.97" y2="95.61" stroke="#f8cd7a" stroke-width="0.7" />
<line x1="313.47" y1="89.30" x2="316.47" y2="89.30" stroke="#f8cd7a" stroke-width="0.7" />
<line x1="313.47" y1="95.61" x2="316.47" y2="95.61" stroke="#f8cd7a" stroke-width="0.7" />
<line x1="327.04" y1="111.39" x2="327.04" y2="115.60" stroke="#f8cd7a" stroke-width="0.7" />
<line x1="325.54" y1="111.39" x2="328.54" y2="111.39" stroke="#f8cd7a" stroke-width="0.7" />
<line x1="325.54" y1="115.60" x2="328.54" y2="115.60" stroke="#f8cd7a" stroke-width="0.7" />
<line x1="351.18" y1="131.38" x2="351.18" y2="135.58" stroke="#f8cd7a" stroke-width="0.7" />
<line x1="349.68" y1="131.38" x2="352.68" y2="131.38" stroke="#f8cd7a" stroke-width="0.7" />
<line x1="349.68" y1="135.58" x2="352.68" y2="135.58" stroke="#f8cd7a" stroke-width="0.7" />
<line x1="375.32" y1="138.74" x2="375.32" y2="140.84" stroke="#f8cd7a" stroke-width="0.7" />
<line x1="373.82" y1="138.74" x2="376.82" y2="138.74" stroke="#f8cd7a" stroke-width="0.7" />
<line x1="373.82" y1="140.84" x2="376.82" y2="140.84" stroke="#f8cd7a" stroke-width="0.7" />
<line x1="399.46" y1="141.26" x2="399.46" y2="143.37" stroke="#f8cd7a" stroke-width="0.7" />
<line x1="397.96" y1="141.26" x2="400.96" y2="141.26" stroke="#f8cd7a" stroke-width="0.7" />
<line x1="397.96" y1="143.37" x2="400.96" y2="143.37" stroke="#f8cd7a" stroke-width="0.7" />
<line x1="447.75" y1="142.53" x2="447.75" y2="144.63" stroke="#f8cd7a" stroke-width="0.7" />
<line x1="446.25" y1="142.53" x2="449.25" y2="142.53" stroke="#f8cd7a" stroke-width="0.7" />
<line x1="446.25" y1="144.63" x2="449.25" y2="144.63" stroke="#f8cd7a" stroke-width="0.7" />
<polyline points="302.90,38.80 306.92,61.94 310.95,77.72 314.97,92.45 327.04,113.49 351.18,133.48 375.32,139.79 399.46,142.32 447.75,143.58" fill="none" stroke="#f5b342" stroke-width="1.1" stroke-linejoin="round" stroke-linecap="round" />
<circle cx="302.90" cy="38.80" r="1.35" fill="#f8cd7a" stroke="#f5b342" stroke-width="0.7"/>
<circle cx="306.92" cy="61.94" r="1.35" fill="#f8cd7a" stroke="#f5b342" stroke-width="0.7"/>
<circle cx="310.95" cy="77.72" r="1.35" fill="#f8cd7a" stroke="#f5b342" stroke-width="0.7"/>
<circle cx="314.97" cy="92.45" r="1.35" fill="#f8cd7a" stroke="#f5b342" stroke-width="0.7"/>
<circle cx="327.04" cy="113.49" r="1.35" fill="#f8cd7a" stroke="#f5b342" stroke-width="0.7"/>
<circle cx="351.18" cy="133.48" r="1.35" fill="#f8cd7a" stroke="#f5b342" stroke-width="0.7"/>
<circle cx="375.32" cy="139.79" r="1.35" fill="#f8cd7a" stroke="#f5b342" stroke-width="0.7"/>
<circle cx="399.46" cy="142.32" r="1.35" fill="#f8cd7a" stroke="#f5b342" stroke-width="0.7"/>
<circle cx="447.75" cy="143.58" r="1.35" fill="#f8cd7a" stroke="#f5b342" stroke-width="0.7"/>
<line x1="306.92" y1="57.74" x2="306.92" y2="61.94" stroke="#f06060" stroke-width="0.7" />
<line x1="305.42" y1="57.74" x2="308.42" y2="57.74" stroke="#f06060" stroke-width="0.7" />
<line x1="305.42" y1="61.94" x2="308.42" y2="61.94" stroke="#f06060" stroke-width="0.7" />
<line x1="310.95" y1="71.62" x2="310.95" y2="77.93" stroke="#f06060" stroke-width="0.7" />
<line x1="309.45" y1="71.62" x2="312.45" y2="71.62" stroke="#f06060" stroke-width="0.7" />
<line x1="309.45" y1="77.93" x2="312.45" y2="77.93" stroke="#f06060" stroke-width="0.7" />
<line x1="314.97" y1="85.09" x2="314.97" y2="91.40" stroke="#f06060" stroke-width="0.7" />
<line x1="313.47" y1="85.09" x2="316.47" y2="85.09" stroke="#f06060" stroke-width="0.7" />
<line x1="313.47" y1="91.40" x2="316.47" y2="91.40" stroke="#f06060" stroke-width="0.7" />
<line x1="327.04" y1="107.71" x2="327.04" y2="114.02" stroke="#f06060" stroke-width="0.7" />
<line x1="325.54" y1="107.71" x2="328.54" y2="107.71" stroke="#f06060" stroke-width="0.7" />
<line x1="325.54" y1="114.02" x2="328.54" y2="114.02" stroke="#f06060" stroke-width="0.7" />
<line x1="351.18" y1="128.85" x2="351.18" y2="133.06" stroke="#f06060" stroke-width="0.7" />
<line x1="349.68" y1="128.85" x2="352.68" y2="128.85" stroke="#f06060" stroke-width="0.7" />
<line x1="349.68" y1="133.06" x2="352.68" y2="133.06" stroke="#f06060" stroke-width="0.7" />
<line x1="375.32" y1="137.48" x2="375.32" y2="139.58" stroke="#f06060" stroke-width="0.7" />
<line x1="373.82" y1="137.48" x2="376.82" y2="137.48" stroke="#f06060" stroke-width="0.7" />
<line x1="373.82" y1="139.58" x2="376.82" y2="139.58" stroke="#f06060" stroke-width="0.7" />
<line x1="399.46" y1="140.21" x2="399.46" y2="142.32" stroke="#f06060" stroke-width="0.7" />
<line x1="397.96" y1="140.21" x2="400.96" y2="140.21" stroke="#f06060" stroke-width="0.7" />
<line x1="397.96" y1="142.32" x2="400.96" y2="142.32" stroke="#f06060" stroke-width="0.7" />
<line x1="447.75" y1="141.69" x2="447.75" y2="143.79" stroke="#f06060" stroke-width="0.7" />
<line x1="446.25" y1="141.69" x2="449.25" y2="141.69" stroke="#f06060" stroke-width="0.7" />
<line x1="446.25" y1="143.79" x2="449.25" y2="143.79" stroke="#f06060" stroke-width="0.7" />
<polyline points="302.90,38.80 306.92,59.84 310.95,74.78 314.97,88.24 327.04,110.86 351.18,130.96 375.32,138.53 399.46,141.26 447.75,142.74" fill="none" stroke="#e8231f" stroke-width="1.1" stroke-linejoin="round" stroke-linecap="round" />
<circle cx="302.90" cy="38.80" r="1.35" fill="#f06060" stroke="#e8231f" stroke-width="0.7"/>
<circle cx="306.92" cy="59.84" r="1.35" fill="#f06060" stroke="#e8231f" stroke-width="0.7"/>
<circle cx="310.95" cy="74.78" r="1.35" fill="#f06060" stroke="#e8231f" stroke-width="0.7"/>
<circle cx="314.97" cy="88.24" r="1.35" fill="#f06060" stroke="#e8231f" stroke-width="0.7"/>
<circle cx="327.04" cy="110.86" r="1.35" fill="#f06060" stroke="#e8231f" stroke-width="0.7"/>
<circle cx="351.18" cy="130.96" r="1.35" fill="#f06060" stroke="#e8231f" stroke-width="0.7"/>
<circle cx="375.32" cy="138.53" r="1.35" fill="#f06060" stroke="#e8231f" stroke-width="0.7"/>
<circle cx="399.46" cy="141.26" r="1.35" fill="#f06060" stroke="#e8231f" stroke-width="0.7"/>
<circle cx="447.75" cy="142.74" r="1.35" fill="#f06060" stroke="#e8231f" stroke-width="0.7"/>
<circle cx="302.90" cy="38.80" r="1.6" fill="#f8cd7a" stroke="#f5b342" stroke-width="0.8"/>
<rect x="295.60" y="20.20" width="160.70" height="129.10" fill="none" stroke="#222" stroke-width="1.3"/>
<line x1="293.00" y1="38.80" x2="295.60" y2="38.80" stroke="#222" stroke-width="1.2" />
<text x="291.00" y="43.50" font-size="15" text-anchor="end"> 00</text>
<path d="M763 0H583V1147Q518 1085 413.5 1023T223 930V1104Q373 1175 485.5 1276T644 1466H763V0Z" transform="translate(265.973 43.50) scale(0.00732 -0.00707)" fill="#111" stroke="#111" stroke-width="0.3" vector-effect="non-scaling-stroke"/>
<line x1="293.00" y1="91.40" x2="295.60" y2="91.40" stroke="#222" stroke-width="1.2" />
<text x="291.00" y="96.10" font-size="15" text-anchor="end" >50</text>
<line x1="293.00" y1="144.00" x2="295.60" y2="144.00" stroke="#222" stroke-width="1.2" />
<text x="291.00" y="148.70" font-size="15" text-anchor="end" >0</text>
<line x1="293.80" y1="65.10" x2="295.60" y2="65.10" stroke="#222" stroke-width="1.0" />
<line x1="293.80" y1="117.70" x2="295.60" y2="117.70" stroke="#222" stroke-width="1.0" />
<line x1="302.90" y1="149.30" x2="302.90" y2="151.90" stroke="#222" stroke-width="1.2" />
<text x="302.90" y="165.00" font-size="15" text-anchor="middle" >0</text>
<line x1="351.18" y1="149.30" x2="351.18" y2="151.90" stroke="#222" stroke-width="1.2" />
<text x="351.18" y="165.00" font-size="15" text-anchor="middle" >60</text>
<line x1="399.46" y1="149.30" x2="399.46" y2="151.90" stroke="#222" stroke-width="1.2" />
<text x="399.46" y="165.00" font-size="15" text-anchor="middle"> 20</text>
<path d="M763 0H583V1147Q518 1085 413.5 1023T223 930V1104Q373 1175 485.5 1276T644 1466H763V0Z" transform="translate(386.951 165.00) scale(0.00732 -0.00707)" fill="#111" stroke="#111" stroke-width="0.3" vector-effect="non-scaling-stroke"/>
<line x1="447.75" y1="149.30" x2="447.75" y2="151.90" stroke="#222" stroke-width="1.2" />
<text x="447.75" y="165.00" font-size="15" text-anchor="middle"> 80</text>
<path d="M763 0H583V1147Q518 1085 413.5 1023T223 930V1104Q373 1175 485.5 1276T644 1466H763V0Z" transform="translate(435.233 165.00) scale(0.00732 -0.00707)" fill="#111" stroke="#111" stroke-width="0.3" vector-effect="non-scaling-stroke"/>
<text x="340.60" y="184.60" font-size="14.65" text-anchor="start" >Time (min)</text>
<text x="266.00" y="189.70" font-size="14.4" text-anchor="start" transform="rotate(-90 266.00 189.70)" >Relative Concentration (%)</text>
<line x1="360.00" y1="26.30" x2="379.00" y2="26.30" stroke="#404040" stroke-width="1.1" />
<circle cx="369.50" cy="26.30" r="1.3" fill="#666666" stroke="#404040" stroke-width="0.6"/>
<text transform="translate(381.00 29.30) scale(0.93 1)" font-size="8.6" style="stroke-width:0.12px">0 mM</text>
<line x1="407.90" y1="26.30" x2="426.90" y2="26.30" stroke="#9a7fd0" stroke-width="1.1" />
<circle cx="417.40" cy="26.30" r="1.3" fill="#c6b0ea" stroke="#9a7fd0" stroke-width="0.6"/>
<g transform="translate(428.90 29.30) scale(0.93 1)"><text x="0" y="0" font-size="8.6" style="stroke-width:0.12px">  mM</text><path d="M763 0H583V1147Q518 1085 413.5 1023T223 930V1104Q373 1175 485.5 1276T644 1466H763V0Z" transform="translate(0.000 0) scale(0.00420 -0.00405)" fill="#111" stroke="#111" stroke-width="0.12" vector-effect="non-scaling-stroke"/></g>
<line x1="360.00" y1="36.00" x2="379.00" y2="36.00" stroke="#3b82c4" stroke-width="1.1" />
<circle cx="369.50" cy="36.00" r="1.3" fill="#7fb2e0" stroke="#3b82c4" stroke-width="0.6"/>
<text transform="translate(381.00 39.00) scale(0.93 1)" font-size="8.6" style="stroke-width:0.12px">4 mM</text>
<line x1="407.90" y1="36.00" x2="426.90" y2="36.00" stroke="#e8231f" stroke-width="1.1" />
<circle cx="417.40" cy="36.00" r="1.3" fill="#f06060" stroke="#e8231f" stroke-width="0.6"/>
<text transform="translate(428.90 39.00) scale(0.93 1)" font-size="8.6" style="stroke-width:0.12px">5 mM</text>
<line x1="407.90" y1="45.70" x2="426.90" y2="45.70" stroke="#f5b342" stroke-width="1.1" />
<circle cx="417.40" cy="45.70" r="1.3" fill="#f8cd7a" stroke="#f5b342" stroke-width="0.6"/>
<g transform="translate(428.90 48.70) scale(0.93 1)"><text x="0" y="0" font-size="8.6" style="stroke-width:0.12px"> 0 mM</text><path d="M763 0H583V1147Q518 1085 413.5 1023T223 930V1104Q373 1175 485.5 1276T644 1466H763V0Z" transform="translate(0.000 0) scale(0.00420 -0.00405)" fill="#111" stroke="#111" stroke-width="0.12" vector-effect="non-scaling-stroke"/></g>
<text x="238.40" y="15.10" font-size="21.5" text-anchor="start" >b</text>
<line x1="537.62" y1="42.06" x2="537.62" y2="46.28" stroke="#b9a0e0" stroke-width="0.7" />
<line x1="536.12" y1="42.06" x2="539.12" y2="42.06" stroke="#b9a0e0" stroke-width="0.7" />
<line x1="536.12" y1="46.28" x2="539.12" y2="46.28" stroke="#b9a0e0" stroke-width="0.7" />
<line x1="550.35" y1="42.06" x2="550.35" y2="47.34" stroke="#b9a0e0" stroke-width="0.7" />
<line x1="548.85" y1="42.06" x2="551.85" y2="42.06" stroke="#b9a0e0" stroke-width="0.7" />
<line x1="548.85" y1="47.34" x2="551.85" y2="47.34" stroke="#b9a0e0" stroke-width="0.7" />
<line x1="563.07" y1="40.15" x2="563.07" y2="48.61" stroke="#b9a0e0" stroke-width="0.7" />
<line x1="561.57" y1="40.15" x2="564.57" y2="40.15" stroke="#b9a0e0" stroke-width="0.7" />
<line x1="561.57" y1="48.61" x2="564.57" y2="48.61" stroke="#b9a0e0" stroke-width="0.7" />
<line x1="601.25" y1="42.59" x2="601.25" y2="48.93" stroke="#b9a0e0" stroke-width="0.7" />
<line x1="599.75" y1="42.59" x2="602.75" y2="42.59" stroke="#b9a0e0" stroke-width="0.7" />
<line x1="599.75" y1="48.93" x2="602.75" y2="48.93" stroke="#b9a0e0" stroke-width="0.7" />
<line x1="677.60" y1="43.22" x2="677.60" y2="49.56" stroke="#b9a0e0" stroke-width="0.7" />
<line x1="676.10" y1="43.22" x2="679.10" y2="43.22" stroke="#b9a0e0" stroke-width="0.7" />
<line x1="676.10" y1="49.56" x2="679.10" y2="49.56" stroke="#b9a0e0" stroke-width="0.7" />
<polyline points="524.90,41.00 537.62,44.17 550.35,44.70 563.07,44.38 601.25,45.76 677.60,46.39" fill="none" stroke="#9a7fd0" stroke-width="1.5" stroke-linejoin="round" stroke-linecap="round" />
<circle cx="524.90" cy="41.00" r="1.5" fill="#fff" fill-opacity="0.6" stroke="#9a7fd0" stroke-width="0.8"/>
<circle cx="537.62" cy="44.17" r="1.5" fill="#fff" fill-opacity="0.6" stroke="#9a7fd0" stroke-width="0.8"/>
<circle cx="550.35" cy="44.70" r="1.5" fill="#fff" fill-opacity="0.6" stroke="#9a7fd0" stroke-width="0.8"/>
<circle cx="563.07" cy="44.38" r="1.5" fill="#fff" fill-opacity="0.6" stroke="#9a7fd0" stroke-width="0.8"/>
<circle cx="601.25" cy="45.76" r="1.5" fill="#fff" fill-opacity="0.6" stroke="#9a7fd0" stroke-width="0.8"/>
<circle cx="677.60" cy="46.39" r="1.5" fill="#fff" fill-opacity="0.6" stroke="#9a7fd0" stroke-width="0.8"/>
<line x1="537.62" y1="42.48" x2="537.62" y2="50.09" stroke="#f5a070" stroke-width="0.7" />
<line x1="536.12" y1="42.48" x2="539.12" y2="42.48" stroke="#f5a070" stroke-width="0.7" />
<line x1="536.12" y1="50.09" x2="539.12" y2="50.09" stroke="#f5a070" stroke-width="0.7" />
<line x1="550.35" y1="40.68" x2="550.35" y2="54.64" stroke="#f5a070" stroke-width="0.7" />
<line x1="548.85" y1="40.68" x2="551.85" y2="40.68" stroke="#f5a070" stroke-width="0.7" />
<line x1="548.85" y1="54.64" x2="551.85" y2="54.64" stroke="#f5a070" stroke-width="0.7" />
<line x1="563.07" y1="45.86" x2="563.07" y2="52.20" stroke="#f5a070" stroke-width="0.7" />
<line x1="561.57" y1="45.86" x2="564.57" y2="45.86" stroke="#f5a070" stroke-width="0.7" />
<line x1="561.57" y1="52.20" x2="564.57" y2="52.20" stroke="#f5a070" stroke-width="0.7" />
<line x1="601.25" y1="48.40" x2="601.25" y2="52.63" stroke="#f5a070" stroke-width="0.7" />
<line x1="599.75" y1="48.40" x2="602.75" y2="48.40" stroke="#f5a070" stroke-width="0.7" />
<line x1="599.75" y1="52.63" x2="602.75" y2="52.63" stroke="#f5a070" stroke-width="0.7" />
<line x1="677.60" y1="50.09" x2="677.60" y2="54.32" stroke="#f5a070" stroke-width="0.7" />
<line x1="676.10" y1="50.09" x2="679.10" y2="50.09" stroke="#f5a070" stroke-width="0.7" />
<line x1="676.10" y1="54.32" x2="679.10" y2="54.32" stroke="#f5a070" stroke-width="0.7" />
<polyline points="524.90,41.00 537.62,46.28 550.35,47.66 563.07,49.03 601.25,50.51 677.60,52.20" fill="none" stroke="#f0732e" stroke-width="1.5" stroke-linejoin="round" stroke-linecap="round" />
<circle cx="524.90" cy="41.00" r="1.5" fill="#fff" fill-opacity="0.6" stroke="#f0732e" stroke-width="0.8"/>
<circle cx="537.62" cy="46.28" r="1.5" fill="#fff" fill-opacity="0.6" stroke="#f0732e" stroke-width="0.8"/>
<circle cx="550.35" cy="47.66" r="1.5" fill="#fff" fill-opacity="0.6" stroke="#f0732e" stroke-width="0.8"/>
<circle cx="563.07" cy="49.03" r="1.5" fill="#fff" fill-opacity="0.6" stroke="#f0732e" stroke-width="0.8"/>
<circle cx="601.25" cy="50.51" r="1.5" fill="#fff" fill-opacity="0.6" stroke="#f0732e" stroke-width="0.8"/>
<circle cx="677.60" cy="52.20" r="1.5" fill="#fff" fill-opacity="0.6" stroke="#f0732e" stroke-width="0.8"/>
<line x1="537.62" y1="60.45" x2="537.62" y2="63.62" stroke="#ff8050" stroke-width="0.7" />
<line x1="536.12" y1="60.45" x2="539.12" y2="60.45" stroke="#ff8050" stroke-width="0.7" />
<line x1="536.12" y1="63.62" x2="539.12" y2="63.62" stroke="#ff8050" stroke-width="0.7" />
<line x1="550.35" y1="74.08" x2="550.35" y2="81.06" stroke="#ff8050" stroke-width="0.7" />
<line x1="548.85" y1="74.08" x2="551.85" y2="74.08" stroke="#ff8050" stroke-width="0.7" />
<line x1="548.85" y1="81.06" x2="551.85" y2="81.06" stroke="#ff8050" stroke-width="0.7" />
<line x1="563.07" y1="86.98" x2="563.07" y2="92.90" stroke="#ff8050" stroke-width="0.7" />
<line x1="561.57" y1="86.98" x2="564.57" y2="86.98" stroke="#ff8050" stroke-width="0.7" />
<line x1="561.57" y1="92.90" x2="564.57" y2="92.90" stroke="#ff8050" stroke-width="0.7" />
<line x1="601.25" y1="111.71" x2="601.25" y2="117.00" stroke="#ff8050" stroke-width="0.7" />
<line x1="599.75" y1="111.71" x2="602.75" y2="111.71" stroke="#ff8050" stroke-width="0.7" />
<line x1="599.75" y1="117.00" x2="602.75" y2="117.00" stroke="#ff8050" stroke-width="0.7" />
<line x1="677.60" y1="130.32" x2="677.60" y2="135.60" stroke="#ff8050" stroke-width="0.7" />
<line x1="676.10" y1="130.32" x2="679.10" y2="130.32" stroke="#ff8050" stroke-width="0.7" />
<line x1="676.10" y1="135.60" x2="679.10" y2="135.60" stroke="#ff8050" stroke-width="0.7" />
<polyline points="524.90,41.00 537.62,62.03 550.35,77.57 563.07,89.94 601.25,114.36 677.60,132.96" fill="none" stroke="#ff4a12" stroke-width="1.5" stroke-linejoin="round" stroke-linecap="round" />
<circle cx="524.90" cy="41.00" r="1.5" fill="#fff" fill-opacity="0.6" stroke="#ff4a12" stroke-width="0.8"/>
<circle cx="537.62" cy="62.03" r="1.5" fill="#fff" fill-opacity="0.6" stroke="#ff4a12" stroke-width="0.8"/>
<circle cx="550.35" cy="77.57" r="1.5" fill="#fff" fill-opacity="0.6" stroke="#ff4a12" stroke-width="0.8"/>
<circle cx="563.07" cy="89.94" r="1.5" fill="#fff" fill-opacity="0.6" stroke="#ff4a12" stroke-width="0.8"/>
<circle cx="601.25" cy="114.36" r="1.5" fill="#fff" fill-opacity="0.6" stroke="#ff4a12" stroke-width="0.8"/>
<circle cx="677.60" cy="132.96" r="1.5" fill="#fff" fill-opacity="0.6" stroke="#ff4a12" stroke-width="0.8"/>
<rect x="518.40" y="25.00" width="165.20" height="121.70" fill="none" stroke="#4a4a4a" stroke-width="1.4"/>
<line x1="515.80" y1="41.00" x2="518.40" y2="41.00" stroke="#222" stroke-width="1.2" />
<text x="514.00" y="45.60" font-size="15" text-anchor="end"> 00</text>
<path d="M763 0H583V1147Q518 1085 413.5 1023T223 930V1104Q373 1175 485.5 1276T644 1466H763V0Z" transform="translate(488.973 45.60) scale(0.00732 -0.00707)" fill="#111" stroke="#111" stroke-width="0.3" vector-effect="non-scaling-stroke"/>
<line x1="515.80" y1="93.85" x2="518.40" y2="93.85" stroke="#222" stroke-width="1.2" />
<text x="514.00" y="98.45" font-size="15" text-anchor="end" >50</text>
<line x1="515.80" y1="146.70" x2="518.40" y2="146.70" stroke="#222" stroke-width="1.2" />
<text x="514.00" y="151.30" font-size="15" text-anchor="end" >0</text>
<line x1="524.90" y1="146.70" x2="524.90" y2="149.30" stroke="#222" stroke-width="1.2" />
<text x="524.90" y="161.50" font-size="15" text-anchor="middle" >0</text>
<line x1="575.80" y1="146.70" x2="575.80" y2="149.30" stroke="#222" stroke-width="1.2" />
<text x="575.80" y="161.50" font-size="15" text-anchor="middle" >20</text>
<line x1="626.70" y1="146.70" x2="626.70" y2="149.30" stroke="#222" stroke-width="1.2" />
<text x="626.70" y="161.50" font-size="15" text-anchor="middle" >40</text>
<line x1="677.60" y1="146.70" x2="677.60" y2="149.30" stroke="#222" stroke-width="1.2" />
<text x="677.60" y="161.50" font-size="15" text-anchor="middle" >60</text>
<text x="567.00" y="180.80" font-size="14.4" text-anchor="start" >Time (min)</text>
<text x="489.00" y="183.80" font-size="13.5" text-anchor="start" transform="rotate(-90 489.00 183.80)" >Relative Concentration (%)</text>
<line x1="600.00" y1="64.30" x2="619.70" y2="64.30" stroke="#9a7fd0" stroke-width="1.6" />
<circle cx="609.3" cy="64.30" r="1.3" fill="#fff" stroke="#9a7fd0" stroke-width="0.7"/>
<text transform="translate(621.80 67.30) scale(0.96 1)" font-size="8.6" style="stroke-width:0.12px">Ter-butanol</text>
<line x1="600.00" y1="74.40" x2="619.70" y2="74.40" stroke="#f0732e" stroke-width="1.6" />
<circle cx="609.3" cy="74.40" r="1.3" fill="#fff" stroke="#f0732e" stroke-width="0.7"/>
<text transform="translate(621.80 77.40) scale(0.96 1)" font-size="8.6" style="stroke-width:0.12px">p-Benzoquinone</text>
<line x1="600.00" y1="84.50" x2="619.70" y2="84.50" stroke="#ff4a12" stroke-width="1.6" />
<circle cx="609.3" cy="84.50" r="1.3" fill="#fff" stroke="#ff4a12" stroke-width="0.7"/>
<text transform="translate(621.80 87.50) scale(0.96 1)" font-size="8.6" style="stroke-width:0.12px">No Quencher</text>
<text x="464.40" y="15.10" font-size="21.5" text-anchor="start" >c</text>
<line x1="66.50" y1="335.40" x2="66.50" y2="343.40" stroke="#f08080" stroke-width="0.7" />
<line x1="65.20" y1="335.40" x2="67.80" y2="335.40" stroke="#f08080" stroke-width="0.7" />
<line x1="65.20" y1="343.40" x2="67.80" y2="343.40" stroke="#f08080" stroke-width="0.7" />
<line x1="71.00" y1="327.20" x2="71.00" y2="339.20" stroke="#f08080" stroke-width="0.7" />
<line x1="69.70" y1="327.20" x2="72.30" y2="327.20" stroke="#f08080" stroke-width="0.7" />
<line x1="69.70" y1="339.20" x2="72.30" y2="339.20" stroke="#f08080" stroke-width="0.7" />
<line x1="75.50" y1="318.40" x2="75.50" y2="334.40" stroke="#f08080" stroke-width="0.7" />
<line x1="74.20" y1="318.40" x2="76.80" y2="318.40" stroke="#f08080" stroke-width="0.7" />
<line x1="74.20" y1="334.40" x2="76.80" y2="334.40" stroke="#f08080" stroke-width="0.7" />
<line x1="89.00" y1="296.40" x2="89.00" y2="321.40" stroke="#f08080" stroke-width="0.7" />
<line x1="87.70" y1="296.40" x2="90.30" y2="296.40" stroke="#f08080" stroke-width="0.7" />
<line x1="87.70" y1="321.40" x2="90.30" y2="321.40" stroke="#f08080" stroke-width="0.7" />
<line x1="116.00" y1="240.90" x2="116.00" y2="255.50" stroke="#f08080" stroke-width="0.7" />
<line x1="114.70" y1="240.90" x2="117.30" y2="240.90" stroke="#f08080" stroke-width="0.7" />
<line x1="114.70" y1="255.50" x2="117.30" y2="255.50" stroke="#f08080" stroke-width="0.7" />
<polyline points="62.00,351.50 66.50,349.90 71.00,348.50 75.50,347.20 89.00,345.30 116.00,339.80" fill="none" stroke="#3b9ae8" stroke-width="1.9" stroke-linejoin="round" stroke-linecap="round" />
<circle cx="62.00" cy="351.50" r="1.3" fill="#3b9ae8"/>
<circle cx="66.50" cy="349.90" r="1.3" fill="#3b9ae8"/>
<circle cx="71.00" cy="348.50" r="1.3" fill="#3b9ae8"/>
<circle cx="75.50" cy="347.20" r="1.3" fill="#3b9ae8"/>
<circle cx="89.00" cy="345.30" r="1.3" fill="#3b9ae8"/>
<circle cx="116.00" cy="339.80" r="1.3" fill="#3b9ae8"/>
<polyline points="62.00,351.50 66.50,339.40 71.00,333.20 75.50,326.40 89.00,308.90 116.00,248.20" fill="none" stroke="#e8393a" stroke-width="1.9" stroke-linejoin="round" stroke-linecap="round" />
<circle cx="62.00" cy="351.50" r="1.3" fill="#fff" stroke="#e8393a" stroke-width="0.7"/>
<circle cx="66.50" cy="339.40" r="1.3" fill="#fff" stroke="#e8393a" stroke-width="0.7"/>
<circle cx="71.00" cy="333.20" r="1.3" fill="#fff" stroke="#e8393a" stroke-width="0.7"/>
<circle cx="75.50" cy="326.40" r="1.3" fill="#fff" stroke="#e8393a" stroke-width="0.7"/>
<circle cx="89.00" cy="308.90" r="1.3" fill="#fff" stroke="#e8393a" stroke-width="0.7"/>
<circle cx="116.00" cy="248.20" r="1.3" fill="#fff" stroke="#e8393a" stroke-width="0.7"/>
<rect x="52.60" y="227.60" width="72.70" height="127.20" fill="none" stroke="#333" stroke-width="1.3"/>
<line x1="62.00" y1="354.80" x2="62.00" y2="357.40" stroke="#222" stroke-width="1.2" />
<text x="62.00" y="370.20" font-size="15" text-anchor="middle" >0</text>
<line x1="89.00" y1="354.80" x2="89.00" y2="357.40" stroke="#222" stroke-width="1.2" />
<text x="89.00" y="370.20" font-size="15" text-anchor="middle" >30</text>
<line x1="116.00" y1="354.80" x2="116.00" y2="357.40" stroke="#222" stroke-width="1.2" />
<text x="116.00" y="370.20" font-size="15" text-anchor="middle" >60</text>
<text x="54.70" y="383.60" font-size="14.4" text-anchor="start" >Time (min)</text>
<text x="45.70" y="375.60" font-size="14.0" text-anchor="start" transform="rotate(-90 45.70 375.60)" >Fluorescence (arb.units)</text>
<line x1="54.10" y1="233.60" x2="73.80" y2="233.60" stroke="#3b9ae8" stroke-width="1.6" />
<circle cx="64.0" cy="233.60" r="1.2" fill="#fff" stroke="#3b9ae8" stroke-width="0.6"/>
<text x="75.5" y="236.80" font-size="8.6" style="stroke-width:0.15px">SiO<tspan font-size="6.2" dy="2.2">2</tspan></text>
<line x1="54.10" y1="245.50" x2="73.80" y2="245.50" stroke="#e8393a" stroke-width="1.6" />
<circle cx="64.0" cy="245.50" r="1.2" fill="#fff" stroke="#e8393a" stroke-width="0.6"/>
<text x="75.5" y="248.70" font-size="8.6" style="stroke-width:0.15px">F-SiO<tspan font-size="6.2" dy="2.2">2</tspan></text>
<line x1="151.20" y1="290.20" x2="151.20" y2="296.20" stroke="#f08080" stroke-width="0.7" />
<line x1="149.90" y1="290.20" x2="152.50" y2="290.20" stroke="#f08080" stroke-width="0.7" />
<line x1="149.90" y1="296.20" x2="152.50" y2="296.20" stroke="#f08080" stroke-width="0.7" />
<line x1="155.70" y1="310.00" x2="155.70" y2="324.00" stroke="#f08080" stroke-width="0.7" />
<line x1="154.40" y1="310.00" x2="157.00" y2="310.00" stroke="#f08080" stroke-width="0.7" />
<line x1="154.40" y1="324.00" x2="157.00" y2="324.00" stroke="#f08080" stroke-width="0.7" />
<line x1="160.20" y1="327.50" x2="160.20" y2="333.50" stroke="#f08080" stroke-width="0.7" />
<line x1="158.90" y1="327.50" x2="161.50" y2="327.50" stroke="#f08080" stroke-width="0.7" />
<line x1="158.90" y1="333.50" x2="161.50" y2="333.50" stroke="#f08080" stroke-width="0.7" />
<line x1="173.70" y1="333.80" x2="173.70" y2="349.80" stroke="#f08080" stroke-width="0.7" />
<line x1="172.40" y1="333.80" x2="175.00" y2="333.80" stroke="#f08080" stroke-width="0.7" />
<line x1="172.40" y1="349.80" x2="175.00" y2="349.80" stroke="#f08080" stroke-width="0.7" />
<line x1="200.70" y1="343.20" x2="200.70" y2="351.20" stroke="#f08080" stroke-width="0.7" />
<line x1="199.40" y1="343.20" x2="202.00" y2="343.20" stroke="#f08080" stroke-width="0.7" />
<line x1="199.40" y1="351.20" x2="202.00" y2="351.20" stroke="#f08080" stroke-width="0.7" />
<line x1="151.20" y1="252.20" x2="151.20" y2="254.20" stroke="#7fbdf0" stroke-width="0.7" />
<line x1="149.90" y1="252.20" x2="152.50" y2="252.20" stroke="#7fbdf0" stroke-width="0.7" />
<line x1="149.90" y1="254.20" x2="152.50" y2="254.20" stroke="#7fbdf0" stroke-width="0.7" />
<line x1="155.70" y1="253.60" x2="155.70" y2="255.60" stroke="#7fbdf0" stroke-width="0.7" />
<line x1="154.40" y1="253.60" x2="157.00" y2="253.60" stroke="#7fbdf0" stroke-width="0.7" />
<line x1="154.40" y1="255.60" x2="157.00" y2="255.60" stroke="#7fbdf0" stroke-width="0.7" />
<line x1="160.20" y1="253.50" x2="160.20" y2="259.50" stroke="#7fbdf0" stroke-width="0.7" />
<line x1="158.90" y1="253.50" x2="161.50" y2="253.50" stroke="#7fbdf0" stroke-width="0.7" />
<line x1="158.90" y1="259.50" x2="161.50" y2="259.50" stroke="#7fbdf0" stroke-width="0.7" />
<line x1="173.70" y1="257.70" x2="173.70" y2="263.70" stroke="#7fbdf0" stroke-width="0.7" />
<line x1="172.40" y1="257.70" x2="175.00" y2="257.70" stroke="#7fbdf0" stroke-width="0.7" />
<line x1="172.40" y1="263.70" x2="175.00" y2="263.70" stroke="#7fbdf0" stroke-width="0.7" />
<line x1="200.70" y1="261.70" x2="200.70" y2="269.70" stroke="#7fbdf0" stroke-width="0.7" />
<line x1="199.40" y1="261.70" x2="202.00" y2="261.70" stroke="#7fbdf0" stroke-width="0.7" />
<line x1="199.40" y1="269.70" x2="202.00" y2="269.70" stroke="#7fbdf0" stroke-width="0.7" />
<polyline points="146.70,250.40 151.20,253.20 155.70,254.60 160.20,256.50 173.70,260.70 200.70,265.70" fill="none" stroke="#3b9ae8" stroke-width="1.9" stroke-linejoin="round" stroke-linecap="round" />
<circle cx="146.70" cy="250.40" r="1.3" fill="#fff" stroke="#3b9ae8" stroke-width="0.7"/>
<circle cx="151.20" cy="253.20" r="1.3" fill="#fff" stroke="#3b9ae8" stroke-width="0.7"/>
<circle cx="155.70" cy="254.60" r="1.3" fill="#fff" stroke="#3b9ae8" stroke-width="0.7"/>
<circle cx="160.20" cy="256.50" r="1.3" fill="#fff" stroke="#3b9ae8" stroke-width="0.7"/>
<circle cx="173.70" cy="260.70" r="1.3" fill="#fff" stroke="#3b9ae8" stroke-width="0.7"/>
<circle cx="200.70" cy="265.70" r="1.3" fill="#fff" stroke="#3b9ae8" stroke-width="0.7"/>
<polyline points="146.70,250.40 151.20,293.20 155.70,317.00 160.20,330.50 173.70,341.80 200.70,347.20" fill="none" stroke="#e8393a" stroke-width="1.9" stroke-linejoin="round" stroke-linecap="round" />
<circle cx="146.70" cy="250.40" r="1.3" fill="#fff" stroke="#e8393a" stroke-width="0.7"/>
<circle cx="151.20" cy="293.20" r="1.3" fill="#fff" stroke="#e8393a" stroke-width="0.7"/>
<circle cx="155.70" cy="317.00" r="1.3" fill="#fff" stroke="#e8393a" stroke-width="0.7"/>
<circle cx="160.20" cy="330.50" r="1.3" fill="#fff" stroke="#e8393a" stroke-width="0.7"/>
<circle cx="173.70" cy="341.80" r="1.3" fill="#fff" stroke="#e8393a" stroke-width="0.7"/>
<circle cx="200.70" cy="347.20" r="1.3" fill="#fff" stroke="#e8393a" stroke-width="0.7"/>
<rect x="136.70" y="227.60" width="74.80" height="127.20" fill="none" stroke="#333" stroke-width="1.3"/>
<line x1="146.70" y1="354.80" x2="146.70" y2="357.40" stroke="#222" stroke-width="1.2" />
<text x="146.70" y="370.20" font-size="15" text-anchor="middle" >0</text>
<line x1="200.70" y1="354.80" x2="200.70" y2="357.40" stroke="#222" stroke-width="1.2" />
<text x="200.70" y="370.20" font-size="15" text-anchor="middle" >60</text>
<text x="140.00" y="383.60" font-size="14.4" text-anchor="start" >Time (min)</text>
<line x1="137.50" y1="233.00" x2="156.00" y2="233.00" stroke="#3b9ae8" stroke-width="1.6" />
<circle cx="146.8" cy="233.00" r="1.2" fill="#fff" stroke="#3b9ae8" stroke-width="0.6"/>
<text x="158.5" y="236.20" font-size="8.6" style="stroke-width:0.15px">SiO<tspan font-size="6.2" dy="2.2">2</tspan></text>
<line x1="137.50" y1="244.90" x2="156.00" y2="244.90" stroke="#e8393a" stroke-width="1.6" />
<circle cx="146.8" cy="244.90" r="1.2" fill="#fff" stroke="#e8393a" stroke-width="0.6"/>
<text x="158.5" y="248.10" font-size="8.6" style="stroke-width:0.15px">F-SiO<tspan font-size="6.2" dy="2.2">2</tspan></text>
<text x="231.30" y="370.40" font-size="14.2" text-anchor="start" transform="rotate(-90 231.30 370.40)" >Absorbance (arb.units)</text>
<text x="-1.20" y="216.90" font-size="21.5" text-anchor="start" >d</text>
<polyline points="301.60,251.80 301.67,251.57 301.73,251.28 301.80,250.96 301.86,250.61 301.93,250.25 301.99,249.88 302.06,249.49 302.13,249.10 302.19,248.70 302.26,248.30 302.32,247.89 302.39,247.48 302.45,247.07 302.52,246.65 302.59,246.24 302.65,245.83 302.72,245.42 302.78,245.02 302.85,244.62 302.91,244.22 302.98,243.83 303.04,243.45 303.11,243.07 303.18,242.70 303.24,242.34 303.31,241.99 303.37,241.64 303.44,241.31 303.50,240.99 303.57,240.68 303.64,240.38 303.70,240.10 303.77,239.82 303.83,239.56 303.90,239.31 303.96,239.08 304.03,238.86 304.10,238.66 304.16,238.47 304.23,238.30 304.29,238.14 304.36,238.00 304.42,237.87 304.49,237.76 304.56,237.67 304.62,237.60 304.69,237.54 304.75,237.49 304.82,237.47 304.88,237.46 304.95,237.47 305.01,237.49 305.08,237.54 305.15,237.60 305.21,237.67 305.28,237.76 305.34,237.87 305.41,238.00 305.47,238.14 305.54,238.30 305.61,238.47 305.67,238.66 305.74,238.86 305.80,239.08 305.87,239.31 305.93,239.56 306.00,239.82 306.07,240.10 306.13,240.38 306.20,240.68 306.26,240.99 306.33,241.31 306.39,241.64 306.46,241.99 306.53,242.34 306.59,242.70 306.66,243.07 306.72,243.45 306.79,243.83 306.85,244.22 306.92,244.62 306.98,245.02 307.05,245.42 307.12,245.83 307.18,246.24 307.25,246.65 307.31,247.07 307.38,247.48 307.44,247.89 307.51,248.30 307.58,248.70 307.64,249.10 307.71,249.49 307.77,249.88 307.84,250.25 307.90,250.61 307.97,250.96 308.04,251.28 308.10,251.57 308.17,251.80 308.23,251.57 308.30,251.28 308.36,250.96 308.43,250.61 308.50,250.25 308.56,249.88 308.63,249.49 308.69,249.10 308.76,248.70 308.82,248.30 308.89,247.89 308.95,247.48 309.02,247.07 309.09,246.65 309.15,246.24 309.22,245.83 309.28,245.42 309.35,245.02 309.41,244.62 309.48,244.22 309.55,243.83 309.61,243.45 309.68,243.07 309.74,242.70 309.81,242.34 309.87,241.99 309.94,241.64 310.01,241.31 310.07,240.99 310.14,240.68 310.20,240.38 310.27,240.10 310.33,239.82 310.40,239.56 310.47,239.31 310.53,239.08 310.60,238.86 310.66,238.66 310.73,238.47 310.79,238.30 310.86,238.14 310.92,238.00 310.99,237.87 311.06,237.76 311.12,237.67 311.19,237.60 311.25,237.54 311.32,237.49 311.38,237.47 311.45,237.46 311.52,237.47 311.58,237.49 311.65,237.54 311.71,237.60 311.78,237.67 311.84,237.76 311.91,237.87 311.98,238.00 312.04,238.14 312.11,238.30 312.17,238.47 312.24,238.66 312.30,238.86 312.37,239.08 312.44,239.31 312.50,239.56 312.57,239.82 312.63,240.10 312.70,240.38 312.76,240.68 312.83,240.99 312.89,241.31 312.96,241.64 313.03,241.99 313.09,242.34 313.16,242.70 313.22,243.07 313.29,243.45 313.35,243.83 313.42,244.22 313.49,244.62 313.55,245.02 313.62,245.42 313.68,245.83 313.75,246.24 313.81,246.65 313.88,247.07 313.95,247.48 314.01,247.89 314.08,248.30 314.14,248.70 314.21,249.10 314.27,249.49 314.34,249.88 314.41,250.25 314.47,250.61 314.54,250.96 314.60,251.28 314.67,251.57 314.73,251.80 314.80,251.57 314.86,251.28 314.93,250.96 315.00,250.61 315.06,250.25 315.13,249.88 315.19,249.49 315.26,249.10 315.32,248.70 315.39,248.30 315.46,247.89 315.52,247.48 315.59,247.07 315.65,246.65 315.72,246.24 315.78,245.83 315.85,245.42 315.92,245.02 315.98,244.62 316.05,244.22 316.11,243.83 316.18,243.45 316.24,243.07 316.31,242.70 316.38,242.34 316.44,241.99 316.51,241.64 316.57,241.31 316.64,240.99 316.70,240.68 316.77,240.38 316.83,240.10 316.90,239.82 316.97,239.56 317.03,239.31 317.10,239.08 317.16,238.86 317.23,238.66 317.29,238.47 317.36,238.30 317.43,238.14 317.49,238.00 317.56,237.87 317.62,237.76 317.69,237.67 317.75,237.60 317.82,237.54 317.89,237.49 317.95,237.47 318.02,237.46 318.08,237.47 318.15,237.49 318.21,237.54 318.28,237.60 318.35,237.67 318.41,237.76 318.48,237.87 318.54,238.00 318.61,238.14 318.67,238.30 318.74,238.47 318.80,238.66 318.87,238.86 318.94,239.08 319.00,239.31 319.07,239.56 319.13,239.82 319.20,240.10 319.26,240.38 319.33,240.68 319.40,240.99 319.46,241.31 319.53,241.64 319.59,241.99 319.66,242.34 319.72,242.70 319.79,243.07 319.86,243.45 319.92,243.83 319.99,244.22 320.05,244.62 320.12,245.02 320.18,245.42 320.25,245.83 320.31,246.24 320.38,246.65 320.45,247.07 320.51,247.48 320.58,247.89 320.64,248.30 320.71,248.70 320.77,249.10 320.84,249.49 320.91,249.88 320.97,250.25 321.04,250.61 321.10,250.96 321.17,251.28 321.23,251.57 321.30,251.80" fill="none" stroke="#b3d5ee" stroke-width="1.1" stroke-linejoin="round" stroke-linecap="round" />
<polyline points="323.60,251.80 323.67,254.36 323.74,256.92 323.81,259.47 323.88,262.01 323.95,264.55 324.01,267.07 324.08,269.58 324.15,272.07 324.22,274.54 324.29,276.98 324.36,279.41 324.43,281.80 324.50,284.17 324.57,286.50 324.64,288.80 324.70,291.06 324.77,293.29 324.84,295.47 324.91,297.61 324.98,299.70 325.05,301.75 325.12,303.75 325.19,305.70 325.26,307.59 325.33,309.43 325.39,311.21 325.46,312.93 325.53,314.60 325.60,316.20 325.67,317.73 325.74,319.21 325.81,320.61 325.88,321.95 325.95,323.22 326.02,324.42 326.08,325.54 326.15,326.60 326.22,327.58 326.29,328.48 326.36,329.31 326.43,330.06 326.50,330.74 326.57,331.34 326.64,331.86 326.71,332.30 326.77,332.66 326.84,332.94 326.91,333.14 326.98,333.26 327.05,333.30 327.12,333.26 327.19,333.14 327.26,332.94 327.33,332.66 327.40,332.30 327.46,331.86 327.53,331.34 327.60,330.74 327.67,330.06 327.74,329.31 327.81,328.48 327.88,327.58 327.95,326.60 328.02,325.54 328.09,324.42 328.15,323.22 328.22,321.95 328.29,320.61 328.36,319.21 328.43,317.73 328.50,316.20 328.57,314.60 328.64,312.93 328.71,311.21 328.78,309.43 328.84,307.59 328.91,305.70 328.98,303.75 329.05,301.75 329.12,299.70 329.19,297.61 329.26,295.47 329.33,293.29 329.40,291.06 329.47,288.80 329.53,286.50 329.60,284.17 329.67,281.80 329.74,279.41 329.81,276.98 329.88,274.54 329.95,272.07 330.02,269.58 330.09,267.07 330.16,264.55 330.22,262.01 330.29,259.47 330.36,256.92 330.43,254.36 330.50,251.80 330.57,254.36 330.64,256.92 330.71,259.47 330.78,262.01 330.85,264.55 330.91,267.07 330.98,269.58 331.05,272.07 331.12,274.54 331.19,276.98 331.26,279.41 331.33,281.80 331.40,284.17 331.47,286.50 331.54,288.80 331.60,291.06 331.67,293.29 331.74,295.47 331.81,297.61 331.88,299.70 331.95,301.75 332.02,303.75 332.09,305.70 332.16,307.59 332.23,309.43 332.29,311.21 332.36,312.93 332.43,314.60 332.50,316.20 332.57,317.73 332.64,319.21 332.71,320.61 332.78,321.95 332.85,323.22 332.92,324.42 332.98,325.54 333.05,326.60 333.12,327.58 333.19,328.48 333.26,329.31 333.33,330.06 333.40,330.74 333.47,331.34 333.54,331.86 333.61,332.30 333.67,332.66 333.74,332.94 333.81,333.14 333.88,333.26 333.95,333.30 334.02,333.26 334.09,333.14 334.16,332.94 334.23,332.66 334.30,332.30 334.36,331.86 334.43,331.34 334.50,330.74 334.57,330.06 334.64,329.31 334.71,328.48 334.78,327.58 334.85,326.60 334.92,325.54 334.99,324.42 335.05,323.22 335.12,321.95 335.19,320.61 335.26,319.21 335.33,317.73 335.40,316.20 335.47,314.60 335.54,312.93 335.61,311.21 335.68,309.43 335.74,307.59 335.81,305.70 335.88,303.75 335.95,301.75 336.02,299.70 336.09,297.61 336.16,295.47 336.23,293.29 336.30,291.06 336.37,288.80 336.43,286.50 336.50,284.17 336.57,281.80 336.64,279.41 336.71,276.98 336.78,274.54 336.85,272.07 336.92,269.58 336.99,267.07 337.06,264.55 337.12,262.01 337.19,259.47 337.26,256.92 337.33,254.36 337.40,251.80 337.47,254.36 337.54,256.92 337.61,259.47 337.68,262.01 337.75,264.55 337.81,267.07 337.88,269.58 337.95,272.07 338.02,274.54 338.09,276.98 338.16,279.41 338.23,281.80 338.30,284.17 338.37,286.50 338.44,288.80 338.50,291.06 338.57,293.29 338.64,295.47 338.71,297.61 338.78,299.70 338.85,301.75 338.92,303.75 338.99,305.70 339.06,307.59 339.12,309.43 339.19,311.21 339.26,312.93 339.33,314.60 339.40,316.20 339.47,317.73 339.54,319.21 339.61,320.61 339.68,321.95 339.75,323.22 339.81,324.42 339.88,325.54 339.95,326.60 340.02,327.58 340.09,328.48 340.16,329.31 340.23,330.06 340.30,330.74 340.37,331.34 340.44,331.86 340.50,332.30 340.57,332.66 340.64,332.94 340.71,333.14 340.78,333.26 340.85,333.30 340.92,333.26 340.99,333.14 341.06,332.94 341.13,332.66 341.19,332.30 341.26,331.86 341.33,331.34 341.40,330.74 341.47,330.06 341.54,329.31 341.61,328.48 341.68,327.58 341.75,326.60 341.82,325.54 341.88,324.42 341.95,323.22 342.02,321.95 342.09,320.61 342.16,319.21 342.23,317.73 342.30,316.20 342.37,314.60 342.44,312.93 342.51,311.21 342.57,309.43 342.64,307.59 342.71,305.70 342.78,303.75 342.85,301.75 342.92,299.70 342.99,297.61 343.06,295.47 343.13,293.29 343.20,291.06 343.26,288.80 343.33,286.50 343.40,284.17 343.47,281.80 343.54,279.41 343.61,276.98 343.68,274.54 343.75,272.07 343.82,269.58 343.89,267.07 343.95,264.55 344.02,262.01 344.09,259.47 344.16,256.92 344.23,254.36 344.30,251.80" fill="none" stroke="#22b0e6" stroke-width="1.2" stroke-linejoin="round" stroke-linecap="round" />
<polyline points="353.30,251.32 353.46,251.27 353.62,251.22 353.79,251.17 353.95,251.13 354.11,251.09 354.27,251.05 354.43,251.02 354.59,251.00 354.75,250.99 354.92,250.99 355.08,250.99 355.24,251.00 355.40,251.02 355.56,251.05 355.73,251.09 355.89,251.13 356.05,251.17 356.21,251.22 356.37,251.27 356.53,251.32 356.69,251.37 356.86,251.43 357.02,251.47 357.18,251.52 357.34,251.56 357.50,251.59 357.67,251.62 357.83,251.64 357.99,251.65 358.15,251.66 358.31,251.65 358.47,251.64 358.63,251.62 358.80,251.59 358.96,251.56 359.12,251.52 359.28,251.47 359.44,251.43 359.61,251.37 359.77,251.32 359.93,251.27 360.09,251.22 360.25,251.17 360.41,251.13 360.57,251.09 360.74,251.05 360.90,251.02 361.06,251.00 361.22,250.99 361.38,250.99 361.55,250.99 361.71,251.00 361.87,251.02 362.03,251.05 362.19,251.09 362.35,251.13 362.51,251.17 362.68,251.22 362.84,251.27 363.00,251.32 363.16,251.37 363.32,251.43 363.49,251.47 363.65,251.52 363.81,251.56 363.97,251.59 364.13,251.62 364.29,251.64 364.45,251.65 364.62,251.66 364.78,251.65 364.94,251.64 365.10,251.62 365.26,251.59 365.43,251.56 365.59,251.52 365.75,251.47 365.91,251.43 366.07,251.37 366.23,251.32 366.39,251.27 366.56,251.22 366.72,251.17 366.88,251.13 367.04,251.09 367.20,251.05 367.37,251.02 367.53,251.00 367.69,250.99 367.85,250.99 368.01,250.99 368.17,251.00 368.33,251.02 368.50,251.05 368.66,251.09 368.82,251.13 368.98,251.17 369.14,251.22 369.31,251.27 369.47,251.32 369.63,251.37 369.79,251.43 369.95,251.47 370.11,251.52 370.27,251.56 370.44,251.59 370.60,251.62 370.76,251.64 370.92,251.65 371.08,251.66 371.25,251.65 371.41,251.64 371.57,251.62 371.73,251.59 371.89,251.56 372.05,251.52 372.21,251.47 372.38,251.43 372.54,251.37 372.70,251.32" fill="none" stroke="#f5a6cc" stroke-width="1.1" stroke-linejoin="round" stroke-linecap="round" />
<polyline points="375.50,252.28 375.56,252.80 375.63,253.49 375.69,254.24 375.76,255.05 375.82,255.89 375.89,256.76 375.95,257.66 376.02,258.58 376.08,259.51 376.15,260.45 376.21,261.41 376.28,262.36 376.35,263.33 376.41,264.29 376.48,265.25 376.54,266.21 376.61,267.16 376.67,268.10 376.74,269.04 376.80,269.96 376.87,270.87 376.93,271.77 377.00,272.65 377.06,273.51 377.12,274.35 377.19,275.17 377.25,275.97 377.32,276.75 377.38,277.50 377.45,278.22 377.51,278.92 377.58,279.59 377.64,280.23 377.71,280.84 377.77,281.41 377.84,281.95 377.90,282.46 377.97,282.94 378.04,283.38 378.10,283.78 378.17,284.15 378.23,284.48 378.30,284.77 378.36,285.03 378.43,285.24 378.49,285.42 378.56,285.56 378.62,285.66 378.69,285.72 378.75,285.74 378.81,285.72 378.88,285.66 378.94,285.56 379.01,285.42 379.07,285.24 379.14,285.03 379.20,284.77 379.27,284.48 379.33,284.15 379.40,283.78 379.46,283.38 379.53,282.94 379.60,282.46 379.66,281.95 379.73,281.41 379.79,280.84 379.86,280.23 379.92,279.59 379.99,278.92 380.05,278.22 380.12,277.50 380.18,276.75 380.25,275.97 380.31,275.17 380.38,274.35 380.44,273.51 380.50,272.65 380.57,271.77 380.63,270.87 380.70,269.96 380.76,269.04 380.83,268.10 380.89,267.16 380.96,266.21 381.02,265.25 381.09,264.29 381.15,263.33 381.22,262.36 381.29,261.41 381.35,260.45 381.42,259.51 381.48,258.58 381.55,257.66 381.61,256.76 381.68,255.89 381.74,255.05 381.81,254.24 381.87,253.49 381.94,252.80 382.00,252.28 382.06,252.80 382.13,253.49 382.19,254.24 382.26,255.05 382.32,255.89 382.39,256.76 382.45,257.66 382.52,258.58 382.58,259.51 382.65,260.45 382.71,261.41 382.78,262.36 382.85,263.33 382.91,264.29 382.98,265.25 383.04,266.21 383.11,267.16 383.17,268.10 383.24,269.04 383.30,269.96 383.37,270.87 383.43,271.77 383.50,272.65 383.56,273.51 383.62,274.35 383.69,275.17 383.75,275.97 383.82,276.75 383.88,277.50 383.95,278.22 384.01,278.92 384.08,279.59 384.14,280.23 384.21,280.84 384.27,281.41 384.34,281.95 384.40,282.46 384.47,282.94 384.54,283.38 384.60,283.78 384.67,284.15 384.73,284.48 384.80,284.77 384.86,285.03 384.93,285.24 384.99,285.42 385.06,285.56 385.12,285.66 385.19,285.72 385.25,285.74 385.31,285.72 385.38,285.66 385.44,285.56 385.51,285.42 385.57,285.24 385.64,285.03 385.70,284.77 385.77,284.48 385.83,284.15 385.90,283.78 385.96,283.38 386.03,282.94 386.10,282.46 386.16,281.95 386.23,281.41 386.29,280.84 386.36,280.23 386.42,279.59 386.49,278.92 386.55,278.22 386.62,277.50 386.68,276.75 386.75,275.97 386.81,275.17 386.88,274.35 386.94,273.51 387.00,272.65 387.07,271.77 387.13,270.87 387.20,269.96 387.26,269.04 387.33,268.10 387.39,267.16 387.46,266.21 387.52,265.25 387.59,264.29 387.65,263.33 387.72,262.36 387.79,261.41 387.85,260.45 387.92,259.51 387.98,258.58 388.05,257.66 388.11,256.76 388.18,255.89 388.24,255.05 388.31,254.24 388.37,253.49 388.44,252.80 388.50,252.28 388.56,252.80 388.63,253.49 388.69,254.24 388.76,255.05 388.82,255.89 388.89,256.76 388.95,257.66 389.02,258.58 389.08,259.51 389.15,260.45 389.21,261.41 389.28,262.36 389.35,263.33 389.41,264.29 389.48,265.25 389.54,266.21 389.61,267.16 389.67,268.10 389.74,269.04 389.80,269.96 389.87,270.87 389.93,271.77 390.00,272.65 390.06,273.51 390.12,274.35 390.19,275.17 390.25,275.97 390.32,276.75 390.38,277.50 390.45,278.22 390.51,278.92 390.58,279.59 390.64,280.23 390.71,280.84 390.77,281.41 390.84,281.95 390.90,282.46 390.97,282.94 391.04,283.38 391.10,283.78 391.17,284.15 391.23,284.48 391.30,284.77 391.36,285.03 391.43,285.24 391.49,285.42 391.56,285.56 391.62,285.66 391.69,285.72 391.75,285.74 391.81,285.72 391.88,285.66 391.94,285.56 392.01,285.42 392.07,285.24 392.14,285.03 392.20,284.77 392.27,284.48 392.33,284.15 392.40,283.78 392.46,283.38 392.53,282.94 392.60,282.46 392.66,281.95 392.73,281.41 392.79,280.84 392.86,280.23 392.92,279.59 392.99,278.92 393.05,278.22 393.12,277.50 393.18,276.75 393.25,275.97 393.31,275.17 393.38,274.35 393.44,273.51 393.50,272.65 393.57,271.77 393.63,270.87 393.70,269.96 393.76,269.04 393.83,268.10 393.89,267.16 393.96,266.21 394.02,265.25 394.09,264.29 394.15,263.33 394.22,262.36 394.29,261.41 394.35,260.45 394.42,259.51 394.48,258.58 394.55,257.66 394.61,256.76 394.68,255.89 394.74,255.05 394.81,254.24 394.87,253.49 394.94,252.80 395.00,252.28" fill="none" stroke="#ea4aa2" stroke-width="1.2" stroke-linejoin="round" stroke-linecap="round" />
<polyline points="404.30,251.80 404.37,251.69 404.44,251.50 404.50,251.26 404.57,250.98 404.64,250.68 404.71,250.34 404.78,249.99 404.84,249.61 404.91,249.21 404.98,248.80 405.05,248.38 405.12,247.95 405.18,247.50 405.25,247.05 405.32,246.59 405.39,246.12 405.46,245.65 405.52,245.18 405.59,244.71 405.66,244.24 405.73,243.77 405.80,243.30 405.86,242.84 405.93,242.38 406.00,241.93 406.07,241.49 406.14,241.06 406.20,240.63 406.27,240.22 406.34,239.82 406.41,239.44 406.48,239.06 406.54,238.70 406.61,238.36 406.68,238.04 406.75,237.73 406.82,237.44 406.88,237.17 406.95,236.91 407.02,236.68 407.09,236.47 407.16,236.28 407.22,236.11 407.29,235.96 407.36,235.84 407.43,235.73 407.50,235.65 407.56,235.59 407.63,235.56 407.70,235.55 407.77,235.56 407.84,235.59 407.90,235.65 407.97,235.73 408.04,235.84 408.11,235.96 408.18,236.11 408.24,236.28 408.31,236.47 408.38,236.68 408.45,236.91 408.52,237.17 408.58,237.44 408.65,237.73 408.72,238.04 408.79,238.36 408.86,238.70 408.92,239.06 408.99,239.44 409.06,239.82 409.13,240.22 409.20,240.63 409.26,241.06 409.33,241.49 409.40,241.93 409.47,242.38 409.54,242.84 409.60,243.30 409.67,243.77 409.74,244.24 409.81,244.71 409.88,245.18 409.94,245.65 410.01,246.12 410.08,246.59 410.15,247.05 410.22,247.50 410.28,247.95 410.35,248.38 410.42,248.80 410.49,249.21 410.56,249.61 410.62,249.99 410.69,250.34 410.76,250.68 410.83,250.98 410.90,251.26 410.96,251.50 411.03,251.69 411.10,251.80 411.17,251.69 411.24,251.50 411.30,251.26 411.37,250.98 411.44,250.68 411.51,250.34 411.58,249.99 411.64,249.61 411.71,249.21 411.78,248.80 411.85,248.38 411.92,247.95 411.98,247.50 412.05,247.05 412.12,246.59 412.19,246.12 412.26,245.65 412.32,245.18 412.39,244.71 412.46,244.24 412.53,243.77 412.60,243.30 412.66,242.84 412.73,242.38 412.80,241.93 412.87,241.49 412.94,241.06 413.00,240.63 413.07,240.22 413.14,239.82 413.21,239.44 413.28,239.06 413.34,238.70 413.41,238.36 413.48,238.04 413.55,237.73 413.62,237.44 413.68,237.17 413.75,236.91 413.82,236.68 413.89,236.47 413.96,236.28 414.02,236.11 414.09,235.96 414.16,235.84 414.23,235.73 414.30,235.65 414.36,235.59 414.43,235.56 414.50,235.55 414.57,235.56 414.64,235.59 414.70,235.65 414.77,235.73 414.84,235.84 414.91,235.96 414.98,236.11 415.04,236.28 415.11,236.47 415.18,236.68 415.25,236.91 415.32,237.17 415.38,237.44 415.45,237.73 415.52,238.04 415.59,238.36 415.66,238.70 415.72,239.06 415.79,239.44 415.86,239.82 415.93,240.22 416.00,240.63 416.06,241.06 416.13,241.49 416.20,241.93 416.27,242.38 416.34,242.84 416.40,243.30 416.47,243.77 416.54,244.24 416.61,244.71 416.68,245.18 416.74,245.65 416.81,246.12 416.88,246.59 416.95,247.05 417.02,247.50 417.08,247.95 417.15,248.38 417.22,248.80 417.29,249.21 417.36,249.61 417.42,249.99 417.49,250.34 417.56,250.68 417.63,250.98 417.70,251.26 417.76,251.50 417.83,251.69 417.90,251.80 417.97,251.69 418.04,251.50 418.10,251.26 418.17,250.98 418.24,250.68 418.31,250.34 418.38,249.99 418.44,249.61 418.51,249.21 418.58,248.80 418.65,248.38 418.72,247.95 418.78,247.50 418.85,247.05 418.92,246.59 418.99,246.12 419.06,245.65 419.12,245.18 419.19,244.71 419.26,244.24 419.33,243.77 419.40,243.30 419.46,242.84 419.53,242.38 419.60,241.93 419.67,241.49 419.74,241.06 419.80,240.63 419.87,240.22 419.94,239.82 420.01,239.44 420.08,239.06 420.14,238.70 420.21,238.36 420.28,238.04 420.35,237.73 420.42,237.44 420.48,237.17 420.55,236.91 420.62,236.68 420.69,236.47 420.76,236.28 420.82,236.11 420.89,235.96 420.96,235.84 421.03,235.73 421.10,235.65 421.16,235.59 421.23,235.56 421.30,235.55 421.37,235.56 421.44,235.59 421.50,235.65 421.57,235.73 421.64,235.84 421.71,235.96 421.78,236.11 421.84,236.28 421.91,236.47 421.98,236.68 422.05,236.91 422.12,237.17 422.18,237.44 422.25,237.73 422.32,238.04 422.39,238.36 422.46,238.70 422.52,239.06 422.59,239.44 422.66,239.82 422.73,240.22 422.80,240.63 422.86,241.06 422.93,241.49 423.00,241.93 423.07,242.38 423.14,242.84 423.20,243.30 423.27,243.77 423.34,244.24 423.41,244.71 423.48,245.18 423.54,245.65 423.61,246.12 423.68,246.59 423.75,247.05 423.82,247.50 423.88,247.95 423.95,248.38 424.02,248.80 424.09,249.21 424.16,249.61 424.22,249.99 424.29,250.34 424.36,250.68 424.43,250.98 424.50,251.26 424.56,251.50 424.63,251.69 424.70,251.80" fill="none" stroke="#b5e0ab" stroke-width="1.2" stroke-linejoin="round" stroke-linecap="round" />
<polyline points="427.00,251.80 427.07,252.24 427.14,252.82 427.20,253.45 427.27,254.13 427.34,254.84 427.41,255.58 427.48,256.34 427.54,257.11 427.61,257.90 427.68,258.69 427.75,259.49 427.82,260.30 427.88,261.11 427.95,261.92 428.02,262.73 428.09,263.54 428.16,264.34 428.22,265.14 428.29,265.93 428.36,266.71 428.43,267.47 428.50,268.23 428.56,268.97 428.63,269.70 428.70,270.41 428.77,271.10 428.84,271.77 428.90,272.43 428.97,273.06 429.04,273.67 429.11,274.26 429.18,274.82 429.24,275.36 429.31,275.87 429.38,276.35 429.45,276.81 429.52,277.24 429.58,277.64 429.65,278.01 429.72,278.35 429.79,278.66 429.86,278.94 429.92,279.19 429.99,279.40 430.06,279.59 430.13,279.74 430.20,279.85 430.26,279.94 430.33,279.99 430.40,280.00 430.47,279.99 430.54,279.94 430.60,279.85 430.67,279.74 430.74,279.59 430.81,279.40 430.88,279.19 430.94,278.94 431.01,278.66 431.08,278.35 431.15,278.01 431.22,277.64 431.28,277.24 431.35,276.81 431.42,276.35 431.49,275.87 431.56,275.36 431.62,274.82 431.69,274.26 431.76,273.67 431.83,273.06 431.90,272.43 431.96,271.77 432.03,271.10 432.10,270.41 432.17,269.70 432.24,268.97 432.30,268.23 432.37,267.47 432.44,266.71 432.51,265.93 432.58,265.14 432.64,264.34 432.71,263.54 432.78,262.73 432.85,261.92 432.92,261.11 432.98,260.30 433.05,259.49 433.12,258.69 433.19,257.90 433.26,257.11 433.32,256.34 433.39,255.58 433.46,254.84 433.53,254.13 433.60,253.45 433.66,252.82 433.73,252.24 433.80,251.80 433.87,252.24 433.94,252.82 434.00,253.45 434.07,254.13 434.14,254.84 434.21,255.58 434.28,256.34 434.34,257.11 434.41,257.90 434.48,258.69 434.55,259.49 434.62,260.30 434.68,261.11 434.75,261.92 434.82,262.73 434.89,263.54 434.96,264.34 435.02,265.14 435.09,265.93 435.16,266.71 435.23,267.47 435.30,268.23 435.36,268.97 435.43,269.70 435.50,270.41 435.57,271.10 435.64,271.77 435.70,272.43 435.77,273.06 435.84,273.67 435.91,274.26 435.98,274.82 436.04,275.36 436.11,275.87 436.18,276.35 436.25,276.81 436.32,277.24 436.38,277.64 436.45,278.01 436.52,278.35 436.59,278.66 436.66,278.94 436.72,279.19 436.79,279.40 436.86,279.59 436.93,279.74 437.00,279.85 437.06,279.94 437.13,279.99 437.20,280.00 437.27,279.99 437.34,279.94 437.40,279.85 437.47,279.74 437.54,279.59 437.61,279.40 437.68,279.19 437.74,278.94 437.81,278.66 437.88,278.35 437.95,278.01 438.02,277.64 438.08,277.24 438.15,276.81 438.22,276.35 438.29,275.87 438.36,275.36 438.42,274.82 438.49,274.26 438.56,273.67 438.63,273.06 438.70,272.43 438.76,271.77 438.83,271.10 438.90,270.41 438.97,269.70 439.04,268.97 439.10,268.23 439.17,267.47 439.24,266.71 439.31,265.93 439.38,265.14 439.44,264.34 439.51,263.54 439.58,262.73 439.65,261.92 439.72,261.11 439.78,260.30 439.85,259.49 439.92,258.69 439.99,257.90 440.06,257.11 440.12,256.34 440.19,255.58 440.26,254.84 440.33,254.13 440.40,253.45 440.46,252.82 440.53,252.24 440.60,251.80 440.67,252.24 440.74,252.82 440.80,253.45 440.87,254.13 440.94,254.84 441.01,255.58 441.08,256.34 441.14,257.11 441.21,257.90 441.28,258.69 441.35,259.49 441.42,260.30 441.48,261.11 441.55,261.92 441.62,262.73 441.69,263.54 441.76,264.34 441.82,265.14 441.89,265.93 441.96,266.71 442.03,267.47 442.10,268.23 442.16,268.97 442.23,269.70 442.30,270.41 442.37,271.10 442.44,271.77 442.50,272.43 442.57,273.06 442.64,273.67 442.71,274.26 442.78,274.82 442.84,275.36 442.91,275.87 442.98,276.35 443.05,276.81 443.12,277.24 443.18,277.64 443.25,278.01 443.32,278.35 443.39,278.66 443.46,278.94 443.52,279.19 443.59,279.40 443.66,279.59 443.73,279.74 443.80,279.85 443.86,279.94 443.93,279.99 444.00,280.00 444.07,279.99 444.14,279.94 444.20,279.85 444.27,279.74 444.34,279.59 444.41,279.40 444.48,279.19 444.54,278.94 444.61,278.66 444.68,278.35 444.75,278.01 444.82,277.64 444.88,277.24 444.95,276.81 445.02,276.35 445.09,275.87 445.16,275.36 445.22,274.82 445.29,274.26 445.36,273.67 445.43,273.06 445.50,272.43 445.56,271.77 445.63,271.10 445.70,270.41 445.77,269.70 445.84,268.97 445.90,268.23 445.97,267.47 446.04,266.71 446.11,265.93 446.18,265.14 446.24,264.34 446.31,263.54 446.38,262.73 446.45,261.92 446.52,261.11 446.58,260.30 446.65,259.49 446.72,258.69 446.79,257.90 446.86,257.11 446.92,256.34 446.99,255.58 447.06,254.84 447.13,254.13 447.20,253.45 447.26,252.82 447.33,252.24 447.40,251.80" fill="none" stroke="#2f954f" stroke-width="1.3" stroke-linejoin="round" stroke-linecap="round" />
<rect x="295.50" y="228.50" width="160.40" height="128.60" fill="none" stroke="#222" stroke-width="1.3"/>
<line x1="292.90" y1="251.80" x2="295.50" y2="251.80" stroke="#222" stroke-width="1.2" />
<text x="291.00" y="256.20" font-size="15" text-anchor="end" >0</text>
<line x1="292.90" y1="299.60" x2="295.50" y2="299.60" stroke="#222" stroke-width="1.2" />
<text x="291.00" y="304.00" font-size="15" text-anchor="end">- 0</text>
<path d="M763 0H583V1147Q518 1085 413.5 1023T223 930V1104Q373 1175 485.5 1276T644 1466H763V0Z" transform="translate(274.315 304.00) scale(0.00732 -0.00707)" fill="#111" stroke="#111" stroke-width="0.3" vector-effect="non-scaling-stroke"/>
<line x1="292.90" y1="347.40" x2="295.50" y2="347.40" stroke="#222" stroke-width="1.2" />
<text x="291.00" y="351.80" font-size="15" text-anchor="end" >-20</text>
<line x1="293.70" y1="275.70" x2="295.50" y2="275.70" stroke="#222" stroke-width="1.0" />
<line x1="293.70" y1="323.50" x2="295.50" y2="323.50" stroke="#222" stroke-width="1.0" />
<line x1="301.90" y1="357.10" x2="301.90" y2="359.70" stroke="#222" stroke-width="1.2" />
<text x="301.90" y="373.00" font-size="15" text-anchor="middle" >0</text>
<line x1="366.00" y1="357.10" x2="366.00" y2="359.70" stroke="#222" stroke-width="1.2" />
<text x="366.00" y="373.00" font-size="15" text-anchor="middle"> 0</text>
<path d="M763 0H583V1147Q518 1085 413.5 1023T223 930V1104Q373 1175 485.5 1276T644 1466H763V0Z" transform="translate(357.658 373.00) scale(0.00732 -0.00707)" fill="#111" stroke="#111" stroke-width="0.3" vector-effect="non-scaling-stroke"/>
<line x1="430.10" y1="357.10" x2="430.10" y2="359.70" stroke="#222" stroke-width="1.2" />
<text x="430.10" y="373.00" font-size="15" text-anchor="middle" >20</text>
<text x="349.00" y="393.50" font-size="14.65" text-anchor="start" >Time (s)</text>
<text x="267.20" y="385.60" font-size="14.55" text-anchor="start" transform="rotate(-90 267.20 385.60)" >Transferred Charges (nC)</text>
<line x1="404.10" y1="291.10" x2="423.30" y2="291.10" stroke="#cfe3f2" stroke-width="1.7" />
<text x="425.2" y="294.20" font-size="8.7" style="stroke-width:0.12px">Al<tspan font-size="6.6" dy="2.4">2</tspan><tspan dy="-2.4">O</tspan><tspan font-size="6.6" dy="2.4">3</tspan></text>
<line x1="404.10" y1="302.92" x2="423.30" y2="302.92" stroke="#2ab2e6" stroke-width="1.7" />
<text x="425.2" y="306.02" font-size="8.7" style="stroke-width:0.12px">F-Al<tspan font-size="6.6" dy="2.4">2</tspan><tspan dy="-2.4">O</tspan><tspan font-size="6.6" dy="2.4">3</tspan></text>
<line x1="404.10" y1="314.74" x2="423.30" y2="314.74" stroke="#f7a9cf" stroke-width="1.7" />
<text x="425.2" y="317.84" font-size="8.7" style="stroke-width:0.12px">ZrO<tspan font-size="6.6" dy="2.4">2</tspan></text>
<line x1="404.10" y1="326.56" x2="423.30" y2="326.56" stroke="#ef7ab9" stroke-width="1.7" />
<text x="425.2" y="329.66" font-size="8.7" style="stroke-width:0.12px">F-ZrO<tspan font-size="6.6" dy="2.4">2</tspan></text>
<line x1="404.10" y1="338.38" x2="423.30" y2="338.38" stroke="#c5e6bd" stroke-width="1.7" />
<text x="425.2" y="341.48" font-size="8.7" style="stroke-width:0.12px">MgO</text>
<line x1="404.10" y1="350.20" x2="423.30" y2="350.20" stroke="#5aa773" stroke-width="1.7" />
<text x="425.2" y="353.30" font-size="8.7" style="stroke-width:0.12px">F-MgO</text>
<text x="238.40" y="216.50" font-size="21.5" text-anchor="start" >e</text>
<defs><linearGradient id="gp" x1="0" y1="0" x2="0" y2="1"><stop offset="0" stop-color="#f5bf4f"/><stop offset="1" stop-color="#fbe2a6"/></linearGradient><linearGradient id="gf" x1="0" y1="0" x2="0" y2="1"><stop offset="0" stop-color="#f06b2c"/><stop offset="1" stop-color="#f9baa0"/></linearGradient></defs>
<rect x="526.00" y="350.00" width="22.00" height="5.70" fill="url(#gp)"/>
<rect x="548.00" y="246.90" width="22.00" height="108.80" fill="url(#gf)"/>
<rect x="579.20" y="352.00" width="22.00" height="3.70" fill="url(#gp)"/>
<rect x="601.20" y="261.90" width="22.00" height="93.80" fill="url(#gf)"/>
<rect x="632.90" y="353.60" width="22.00" height="2.10" fill="url(#gp)"/>
<rect x="654.90" y="276.20" width="22.00" height="79.50" fill="url(#gf)"/>
<line x1="537.00" y1="345.50" x2="537.00" y2="354.60" stroke="#3a4a50" stroke-width="0.8" />
<line x1="535.60" y1="345.50" x2="538.40" y2="345.50" stroke="#3a4a50" stroke-width="0.8" />
<line x1="535.60" y1="354.60" x2="538.40" y2="354.60" stroke="#3a4a50" stroke-width="0.8" />
<line x1="590.40" y1="350.10" x2="590.40" y2="353.90" stroke="#3a4a50" stroke-width="0.8" />
<line x1="589.00" y1="350.10" x2="591.80" y2="350.10" stroke="#3a4a50" stroke-width="0.8" />
<line x1="589.00" y1="353.90" x2="591.80" y2="353.90" stroke="#3a4a50" stroke-width="0.8" />
<line x1="644.40" y1="352.10" x2="644.40" y2="355.20" stroke="#3a4a50" stroke-width="0.8" />
<line x1="643.00" y1="352.10" x2="645.80" y2="352.10" stroke="#3a4a50" stroke-width="0.8" />
<line x1="643.00" y1="355.20" x2="645.80" y2="355.20" stroke="#3a4a50" stroke-width="0.8" />
<line x1="558.40" y1="242.30" x2="558.40" y2="251.10" stroke="#3a4a50" stroke-width="0.8" />
<line x1="557.00" y1="242.30" x2="559.80" y2="242.30" stroke="#3a4a50" stroke-width="0.8" />
<line x1="557.00" y1="251.10" x2="559.80" y2="251.10" stroke="#3a4a50" stroke-width="0.8" />
<line x1="612.10" y1="259.10" x2="612.10" y2="264.60" stroke="#3a4a50" stroke-width="0.8" />
<line x1="610.70" y1="259.10" x2="613.50" y2="259.10" stroke="#3a4a50" stroke-width="0.8" />
<line x1="610.70" y1="264.60" x2="613.50" y2="264.60" stroke="#3a4a50" stroke-width="0.8" />
<line x1="665.50" y1="264.60" x2="665.50" y2="287.70" stroke="#3a4a50" stroke-width="0.8" />
<line x1="664.10" y1="264.60" x2="666.90" y2="264.60" stroke="#3a4a50" stroke-width="0.8" />
<line x1="664.10" y1="287.70" x2="666.90" y2="287.70" stroke="#3a4a50" stroke-width="0.8" />
<circle cx="534.1" cy="345.1" r="1.3" fill="#e6f2fc" stroke="#a8d0f2" stroke-width="0.6"/>
<circle cx="539.8" cy="350.4" r="1.3" fill="#e6f2fc" stroke="#a8d0f2" stroke-width="0.6"/>
<circle cx="534.1" cy="354.0" r="1.3" fill="#e6f2fc" stroke="#a8d0f2" stroke-width="0.6"/>
<circle cx="561.2" cy="241.9" r="1.3" fill="#e6f2fc" stroke="#a8d0f2" stroke-width="0.6"/>
<circle cx="555.3" cy="246.9" r="1.3" fill="#e6f2fc" stroke="#a8d0f2" stroke-width="0.6"/>
<circle cx="555.6" cy="250.9" r="1.3" fill="#e6f2fc" stroke="#a8d0f2" stroke-width="0.6"/>
<circle cx="609.6" cy="259.9" r="1.3" fill="#e6f2fc" stroke="#a8d0f2" stroke-width="0.6"/>
<circle cx="614.8" cy="264.9" r="1.3" fill="#e6f2fc" stroke="#a8d0f2" stroke-width="0.6"/>
<circle cx="662.6" cy="267.9" r="1.3" fill="#e6f2fc" stroke="#a8d0f2" stroke-width="0.6"/>
<circle cx="668.4" cy="271.1" r="1.3" fill="#e6f2fc" stroke="#a8d0f2" stroke-width="0.6"/>
<circle cx="662.6" cy="289.8" r="1.3" fill="#e6f2fc" stroke="#a8d0f2" stroke-width="0.6"/>
<circle cx="588.0" cy="353.0" r="1.3" fill="#e6f2fc" stroke="#a8d0f2" stroke-width="0.6"/>
<circle cx="593.0" cy="353.3" r="1.3" fill="#e6f2fc" stroke="#a8d0f2" stroke-width="0.6"/>
<circle cx="641.3" cy="352.0" r="1.3" fill="#e6f2fc" stroke="#a8d0f2" stroke-width="0.6"/>
<circle cx="646.7" cy="353.9" r="1.3" fill="#e6f2fc" stroke="#a8d0f2" stroke-width="0.6"/>
<rect x="520.60" y="226.60" width="160.90" height="129.20" fill="none" stroke="#222" stroke-width="1.3"/>
<line x1="518.00" y1="355.70" x2="520.60" y2="355.70" stroke="#222" stroke-width="1.2" />
<text x="516.00" y="359.70" font-size="15" text-anchor="end" >0</text>
<line x1="518.00" y1="332.22" x2="520.60" y2="332.22" stroke="#222" stroke-width="1.2" />
<text x="516.00" y="336.22" font-size="15" text-anchor="end" >20</text>
<line x1="518.00" y1="308.74" x2="520.60" y2="308.74" stroke="#222" stroke-width="1.2" />
<text x="516.00" y="312.74" font-size="15" text-anchor="end" >40</text>
<line x1="518.00" y1="285.26" x2="520.60" y2="285.26" stroke="#222" stroke-width="1.2" />
<text x="516.00" y="289.26" font-size="15" text-anchor="end" >60</text>
<line x1="518.00" y1="261.78" x2="520.60" y2="261.78" stroke="#222" stroke-width="1.2" />
<text x="516.00" y="265.78" font-size="15" text-anchor="end" >80</text>
<line x1="518.00" y1="238.30" x2="520.60" y2="238.30" stroke="#222" stroke-width="1.2" />
<text x="516.00" y="242.30" font-size="15" text-anchor="end"> 00</text>
<path d="M763 0H583V1147Q518 1085 413.5 1023T223 930V1104Q373 1175 485.5 1276T644 1466H763V0Z" transform="translate(490.973 242.30) scale(0.00732 -0.00707)" fill="#111" stroke="#111" stroke-width="0.3" vector-effect="non-scaling-stroke"/>
<line x1="518.80" y1="343.96" x2="520.60" y2="343.96" stroke="#222" stroke-width="1.0" />
<line x1="518.80" y1="320.48" x2="520.60" y2="320.48" stroke="#222" stroke-width="1.0" />
<line x1="518.80" y1="297.00" x2="520.60" y2="297.00" stroke="#222" stroke-width="1.0" />
<line x1="518.80" y1="273.52" x2="520.60" y2="273.52" stroke="#222" stroke-width="1.0" />
<line x1="518.80" y1="250.04" x2="520.60" y2="250.04" stroke="#222" stroke-width="1.0" />
<line x1="548.00" y1="355.80" x2="548.00" y2="358.80" stroke="#222" stroke-width="1.2" />
<line x1="601.20" y1="355.80" x2="601.20" y2="358.80" stroke="#222" stroke-width="1.2" />
<line x1="654.90" y1="355.80" x2="654.90" y2="358.80" stroke="#222" stroke-width="1.2" />
<text x="550.0" y="374.9" font-size="14.6" text-anchor="middle">Al<tspan font-size="10.5" dy="3.4">2</tspan><tspan dy="-3.4">O</tspan><tspan font-size="10.5" dy="3.4">3</tspan></text>
<text x="601.0" y="374.9" font-size="14.6" text-anchor="middle">ZrO<tspan font-size="10.5" dy="3.4">2</tspan></text>
<text x="655.3" y="374.9" font-size="14.6" text-anchor="middle">MgO</text>
<text x="492.20" y="365.20" font-size="14.9" text-anchor="start" transform="rotate(-90 492.20 365.20)" >MO Remove Ratio (%)</text>
<rect x="588.0" y="227.4" width="18.8" height="8.4" fill="url(#gp)"/>
<rect x="588.0" y="237.6" width="18.8" height="9.2" fill="url(#gf)"/>
<text transform="translate(609.90 234.90) scale(0.97 1)" font-size="8.5" style="stroke-width:0.1px">Pristine Oxides</text>
<text transform="translate(609.90 245.20) scale(0.97 1)" font-size="8.5" style="stroke-width:0.1px">Fluorinated Oxides</text>
<text x="463.40" y="216.70" font-size="21.5" text-anchor="start" >f</text>
</svg></body></html>
